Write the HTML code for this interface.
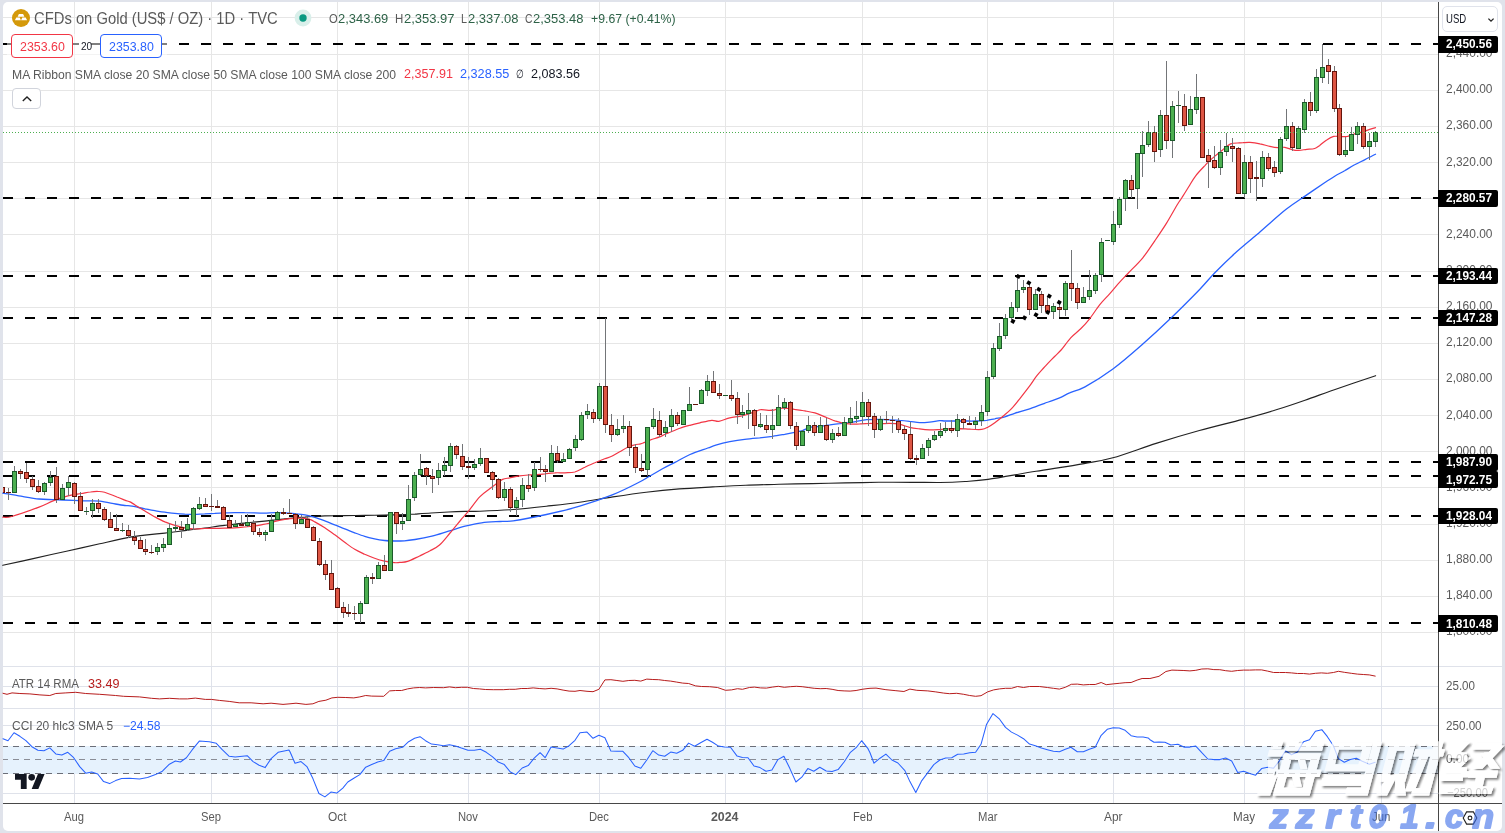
<!DOCTYPE html>
<html><head><meta charset="utf-8"><title>CFDs on Gold</title>
<style>
html,body{margin:0;padding:0}
body{width:1505px;height:833px;overflow:hidden;background:#e0e3eb;position:relative;font-family:"Liberation Sans",sans-serif}
#panel{position:absolute;left:3px;top:2px;width:1499px;height:829px;background:#fff;border-radius:5px}
svg{position:absolute;left:0;top:0}
.t{position:absolute;white-space:nowrap;line-height:1;transform-origin:0 50%;height:1em}
.bx{position:absolute;left:1438px;width:59.5px;background:#000;border-radius:0 2px 2px 0}
.btn{position:absolute;box-sizing:border-box;background:#fff;border-radius:4px}
</style></head><body>
<div id="panel"></div>

<svg width="1505" height="833" viewBox="0 0 1505 833" shape-rendering="crispEdges">
<g shape-rendering="crispEdges">
<path d="M74 2h1v664h-1zM211 2h1v664h-1zM337 2h1v664h-1zM468 2h1v664h-1zM599 2h1v664h-1zM725 2h1v664h-1zM862 2h1v664h-1zM987 2h1v664h-1zM1113 2h1v664h-1zM1244 2h1v664h-1zM1381 2h1v664h-1zM3 17h1435v1h-1435zM3 54h1435v1h-1435zM3 90h1435v1h-1435zM3 126h1435v1h-1435zM3 162h1435v1h-1435zM3 198h1435v1h-1435zM3 234h1435v1h-1435zM3 271h1435v1h-1435zM3 307h1435v1h-1435zM3 343h1435v1h-1435zM3 379h1435v1h-1435zM3 415h1435v1h-1435zM3 451h1435v1h-1435zM3 487h1435v1h-1435zM3 524h1435v1h-1435zM3 560h1435v1h-1435zM3 596h1435v1h-1435zM3 632h1435v1h-1435z" fill="#e6e6e6"/>
<path d="M74 667h1v136h-1zM211 667h1v136h-1zM337 667h1v136h-1zM468 667h1v136h-1zM599 667h1v136h-1zM725 667h1v136h-1zM862 667h1v136h-1zM987 667h1v136h-1zM1113 667h1v136h-1zM1244 667h1v136h-1zM1381 667h1v136h-1zM3 686h1435v1h-1435zM3 725h1435v1h-1435zM3 793h1435v1h-1435z" fill="#dfe2ea"/>
<path d="M3 666h1499v1h-1499zM3 708h1499v1h-1499z" fill="#dfe2ea"/>
<rect x="3" y="746" width="1435" height="28" fill="#e6f2fd"/>
<path d="M3 746.5H1438" stroke="#6b6e78" stroke-width="1" stroke-dasharray="6 5" stroke-dashoffset="1" fill="none"/>
<path d="M3 759.5H1438" stroke="#8a8d96" stroke-width="1" stroke-dasharray="6 5" stroke-dashoffset="1" fill="none"/>
<path d="M3 773.5H1438" stroke="#6b6e78" stroke-width="1" stroke-dasharray="6 5" stroke-dashoffset="1" fill="none"/>
<path d="M3 43h10v2h-10zM25 43h10v2h-10zM47 43h10v2h-10zM69 43h10v2h-10zM91 43h10v2h-10zM113 43h10v2h-10zM135 43h10v2h-10zM157 43h10v2h-10zM179 43h10v2h-10zM201 43h10v2h-10zM223 43h10v2h-10zM245 43h10v2h-10zM267 43h10v2h-10zM289 43h10v2h-10zM311 43h10v2h-10zM333 43h10v2h-10zM355 43h10v2h-10zM377 43h10v2h-10zM399 43h10v2h-10zM421 43h10v2h-10zM443 43h10v2h-10zM465 43h10v2h-10zM487 43h10v2h-10zM509 43h10v2h-10zM531 43h10v2h-10zM553 43h10v2h-10zM575 43h10v2h-10zM597 43h10v2h-10zM619 43h10v2h-10zM641 43h10v2h-10zM663 43h10v2h-10zM685 43h10v2h-10zM707 43h10v2h-10zM729 43h10v2h-10zM751 43h10v2h-10zM773 43h10v2h-10zM795 43h10v2h-10zM817 43h10v2h-10zM839 43h10v2h-10zM861 43h10v2h-10zM883 43h10v2h-10zM905 43h10v2h-10zM927 43h10v2h-10zM949 43h10v2h-10zM971 43h10v2h-10zM993 43h10v2h-10zM1015 43h10v2h-10zM1037 43h10v2h-10zM1059 43h10v2h-10zM1081 43h10v2h-10zM1103 43h10v2h-10zM1125 43h10v2h-10zM1147 43h10v2h-10zM1169 43h10v2h-10zM1191 43h10v2h-10zM1213 43h10v2h-10zM1235 43h10v2h-10zM1257 43h10v2h-10zM1279 43h10v2h-10zM1301 43h10v2h-10zM1323 43h10v2h-10zM1345 43h10v2h-10zM1367 43h10v2h-10zM1389 43h10v2h-10zM1411 43h10v2h-10zM1433 43h5v2h-5z" fill="#000"/>
<path d="M3 197h10v2h-10zM25 197h10v2h-10zM47 197h10v2h-10zM69 197h10v2h-10zM91 197h10v2h-10zM113 197h10v2h-10zM135 197h10v2h-10zM157 197h10v2h-10zM179 197h10v2h-10zM201 197h10v2h-10zM223 197h10v2h-10zM245 197h10v2h-10zM267 197h10v2h-10zM289 197h10v2h-10zM311 197h10v2h-10zM333 197h10v2h-10zM355 197h10v2h-10zM377 197h10v2h-10zM399 197h10v2h-10zM421 197h10v2h-10zM443 197h10v2h-10zM465 197h10v2h-10zM487 197h10v2h-10zM509 197h10v2h-10zM531 197h10v2h-10zM553 197h10v2h-10zM575 197h10v2h-10zM597 197h10v2h-10zM619 197h10v2h-10zM641 197h10v2h-10zM663 197h10v2h-10zM685 197h10v2h-10zM707 197h10v2h-10zM729 197h10v2h-10zM751 197h10v2h-10zM773 197h10v2h-10zM795 197h10v2h-10zM817 197h10v2h-10zM839 197h10v2h-10zM861 197h10v2h-10zM883 197h10v2h-10zM905 197h10v2h-10zM927 197h10v2h-10zM949 197h10v2h-10zM971 197h10v2h-10zM993 197h10v2h-10zM1015 197h10v2h-10zM1037 197h10v2h-10zM1059 197h10v2h-10zM1081 197h10v2h-10zM1103 197h10v2h-10zM1125 197h10v2h-10zM1147 197h10v2h-10zM1169 197h10v2h-10zM1191 197h10v2h-10zM1213 197h10v2h-10zM1235 197h10v2h-10zM1257 197h10v2h-10zM1279 197h10v2h-10zM1301 197h10v2h-10zM1323 197h10v2h-10zM1345 197h10v2h-10zM1367 197h10v2h-10zM1389 197h10v2h-10zM1411 197h10v2h-10zM1433 197h5v2h-5z" fill="#000"/>
<path d="M3 275h10v2h-10zM25 275h10v2h-10zM47 275h10v2h-10zM69 275h10v2h-10zM91 275h10v2h-10zM113 275h10v2h-10zM135 275h10v2h-10zM157 275h10v2h-10zM179 275h10v2h-10zM201 275h10v2h-10zM223 275h10v2h-10zM245 275h10v2h-10zM267 275h10v2h-10zM289 275h10v2h-10zM311 275h10v2h-10zM333 275h10v2h-10zM355 275h10v2h-10zM377 275h10v2h-10zM399 275h10v2h-10zM421 275h10v2h-10zM443 275h10v2h-10zM465 275h10v2h-10zM487 275h10v2h-10zM509 275h10v2h-10zM531 275h10v2h-10zM553 275h10v2h-10zM575 275h10v2h-10zM597 275h10v2h-10zM619 275h10v2h-10zM641 275h10v2h-10zM663 275h10v2h-10zM685 275h10v2h-10zM707 275h10v2h-10zM729 275h10v2h-10zM751 275h10v2h-10zM773 275h10v2h-10zM795 275h10v2h-10zM817 275h10v2h-10zM839 275h10v2h-10zM861 275h10v2h-10zM883 275h10v2h-10zM905 275h10v2h-10zM927 275h10v2h-10zM949 275h10v2h-10zM971 275h10v2h-10zM993 275h10v2h-10zM1015 275h10v2h-10zM1037 275h10v2h-10zM1059 275h10v2h-10zM1081 275h10v2h-10zM1103 275h10v2h-10zM1125 275h10v2h-10zM1147 275h10v2h-10zM1169 275h10v2h-10zM1191 275h10v2h-10zM1213 275h10v2h-10zM1235 275h10v2h-10zM1257 275h10v2h-10zM1279 275h10v2h-10zM1301 275h10v2h-10zM1323 275h10v2h-10zM1345 275h10v2h-10zM1367 275h10v2h-10zM1389 275h10v2h-10zM1411 275h10v2h-10zM1433 275h5v2h-5z" fill="#000"/>
<path d="M3 317h10v2h-10zM25 317h10v2h-10zM47 317h10v2h-10zM69 317h10v2h-10zM91 317h10v2h-10zM113 317h10v2h-10zM135 317h10v2h-10zM157 317h10v2h-10zM179 317h10v2h-10zM201 317h10v2h-10zM223 317h10v2h-10zM245 317h10v2h-10zM267 317h10v2h-10zM289 317h10v2h-10zM311 317h10v2h-10zM333 317h10v2h-10zM355 317h10v2h-10zM377 317h10v2h-10zM399 317h10v2h-10zM421 317h10v2h-10zM443 317h10v2h-10zM465 317h10v2h-10zM487 317h10v2h-10zM509 317h10v2h-10zM531 317h10v2h-10zM553 317h10v2h-10zM575 317h10v2h-10zM597 317h10v2h-10zM619 317h10v2h-10zM641 317h10v2h-10zM663 317h10v2h-10zM685 317h10v2h-10zM707 317h10v2h-10zM729 317h10v2h-10zM751 317h10v2h-10zM773 317h10v2h-10zM795 317h10v2h-10zM817 317h10v2h-10zM839 317h10v2h-10zM861 317h10v2h-10zM883 317h10v2h-10zM905 317h10v2h-10zM927 317h10v2h-10zM949 317h10v2h-10zM971 317h10v2h-10zM993 317h10v2h-10zM1015 317h10v2h-10zM1037 317h10v2h-10zM1059 317h10v2h-10zM1081 317h10v2h-10zM1103 317h10v2h-10zM1125 317h10v2h-10zM1147 317h10v2h-10zM1169 317h10v2h-10zM1191 317h10v2h-10zM1213 317h10v2h-10zM1235 317h10v2h-10zM1257 317h10v2h-10zM1279 317h10v2h-10zM1301 317h10v2h-10zM1323 317h10v2h-10zM1345 317h10v2h-10zM1367 317h10v2h-10zM1389 317h10v2h-10zM1411 317h10v2h-10zM1433 317h5v2h-5z" fill="#000"/>
<path d="M3 461h10v2h-10zM25 461h10v2h-10zM47 461h10v2h-10zM69 461h10v2h-10zM91 461h10v2h-10zM113 461h10v2h-10zM135 461h10v2h-10zM157 461h10v2h-10zM179 461h10v2h-10zM201 461h10v2h-10zM223 461h10v2h-10zM245 461h10v2h-10zM267 461h10v2h-10zM289 461h10v2h-10zM311 461h10v2h-10zM333 461h10v2h-10zM355 461h10v2h-10zM377 461h10v2h-10zM399 461h10v2h-10zM421 461h10v2h-10zM443 461h10v2h-10zM465 461h10v2h-10zM487 461h10v2h-10zM509 461h10v2h-10zM531 461h10v2h-10zM553 461h10v2h-10zM575 461h10v2h-10zM597 461h10v2h-10zM619 461h10v2h-10zM641 461h10v2h-10zM663 461h10v2h-10zM685 461h10v2h-10zM707 461h10v2h-10zM729 461h10v2h-10zM751 461h10v2h-10zM773 461h10v2h-10zM795 461h10v2h-10zM817 461h10v2h-10zM839 461h10v2h-10zM861 461h10v2h-10zM883 461h10v2h-10zM905 461h10v2h-10zM927 461h10v2h-10zM949 461h10v2h-10zM971 461h10v2h-10zM993 461h10v2h-10zM1015 461h10v2h-10zM1037 461h10v2h-10zM1059 461h10v2h-10zM1081 461h10v2h-10zM1103 461h10v2h-10zM1125 461h10v2h-10zM1147 461h10v2h-10zM1169 461h10v2h-10zM1191 461h10v2h-10zM1213 461h10v2h-10zM1235 461h10v2h-10zM1257 461h10v2h-10zM1279 461h10v2h-10zM1301 461h10v2h-10zM1323 461h10v2h-10zM1345 461h10v2h-10zM1367 461h10v2h-10zM1389 461h10v2h-10zM1411 461h10v2h-10zM1433 461h5v2h-5z" fill="#000"/>
<path d="M3 475h10v2h-10zM25 475h10v2h-10zM47 475h10v2h-10zM69 475h10v2h-10zM91 475h10v2h-10zM113 475h10v2h-10zM135 475h10v2h-10zM157 475h10v2h-10zM179 475h10v2h-10zM201 475h10v2h-10zM223 475h10v2h-10zM245 475h10v2h-10zM267 475h10v2h-10zM289 475h10v2h-10zM311 475h10v2h-10zM333 475h10v2h-10zM355 475h10v2h-10zM377 475h10v2h-10zM399 475h10v2h-10zM421 475h10v2h-10zM443 475h10v2h-10zM465 475h10v2h-10zM487 475h10v2h-10zM509 475h10v2h-10zM531 475h10v2h-10zM553 475h10v2h-10zM575 475h10v2h-10zM597 475h10v2h-10zM619 475h10v2h-10zM641 475h10v2h-10zM663 475h10v2h-10zM685 475h10v2h-10zM707 475h10v2h-10zM729 475h10v2h-10zM751 475h10v2h-10zM773 475h10v2h-10zM795 475h10v2h-10zM817 475h10v2h-10zM839 475h10v2h-10zM861 475h10v2h-10zM883 475h10v2h-10zM905 475h10v2h-10zM927 475h10v2h-10zM949 475h10v2h-10zM971 475h10v2h-10zM993 475h10v2h-10zM1015 475h10v2h-10zM1037 475h10v2h-10zM1059 475h10v2h-10zM1081 475h10v2h-10zM1103 475h10v2h-10zM1125 475h10v2h-10zM1147 475h10v2h-10zM1169 475h10v2h-10zM1191 475h10v2h-10zM1213 475h10v2h-10zM1235 475h10v2h-10zM1257 475h10v2h-10zM1279 475h10v2h-10zM1301 475h10v2h-10zM1323 475h10v2h-10zM1345 475h10v2h-10zM1367 475h10v2h-10zM1389 475h10v2h-10zM1411 475h10v2h-10zM1433 475h5v2h-5z" fill="#000"/>
<path d="M3 515h10v2h-10zM25 515h10v2h-10zM47 515h10v2h-10zM69 515h10v2h-10zM91 515h10v2h-10zM113 515h10v2h-10zM135 515h10v2h-10zM157 515h10v2h-10zM179 515h10v2h-10zM201 515h10v2h-10zM223 515h10v2h-10zM245 515h10v2h-10zM267 515h10v2h-10zM289 515h10v2h-10zM311 515h10v2h-10zM333 515h10v2h-10zM355 515h10v2h-10zM377 515h10v2h-10zM399 515h10v2h-10zM421 515h10v2h-10zM443 515h10v2h-10zM465 515h10v2h-10zM487 515h10v2h-10zM509 515h10v2h-10zM531 515h10v2h-10zM553 515h10v2h-10zM575 515h10v2h-10zM597 515h10v2h-10zM619 515h10v2h-10zM641 515h10v2h-10zM663 515h10v2h-10zM685 515h10v2h-10zM707 515h10v2h-10zM729 515h10v2h-10zM751 515h10v2h-10zM773 515h10v2h-10zM795 515h10v2h-10zM817 515h10v2h-10zM839 515h10v2h-10zM861 515h10v2h-10zM883 515h10v2h-10zM905 515h10v2h-10zM927 515h10v2h-10zM949 515h10v2h-10zM971 515h10v2h-10zM993 515h10v2h-10zM1015 515h10v2h-10zM1037 515h10v2h-10zM1059 515h10v2h-10zM1081 515h10v2h-10zM1103 515h10v2h-10zM1125 515h10v2h-10zM1147 515h10v2h-10zM1169 515h10v2h-10zM1191 515h10v2h-10zM1213 515h10v2h-10zM1235 515h10v2h-10zM1257 515h10v2h-10zM1279 515h10v2h-10zM1301 515h10v2h-10zM1323 515h10v2h-10zM1345 515h10v2h-10zM1367 515h10v2h-10zM1389 515h10v2h-10zM1411 515h10v2h-10zM1433 515h5v2h-5z" fill="#000"/>
<path d="M3 622h10v2h-10zM25 622h10v2h-10zM47 622h10v2h-10zM69 622h10v2h-10zM91 622h10v2h-10zM113 622h10v2h-10zM135 622h10v2h-10zM157 622h10v2h-10zM179 622h10v2h-10zM201 622h10v2h-10zM223 622h10v2h-10zM245 622h10v2h-10zM267 622h10v2h-10zM289 622h10v2h-10zM311 622h10v2h-10zM333 622h10v2h-10zM355 622h10v2h-10zM377 622h10v2h-10zM399 622h10v2h-10zM421 622h10v2h-10zM443 622h10v2h-10zM465 622h10v2h-10zM487 622h10v2h-10zM509 622h10v2h-10zM531 622h10v2h-10zM553 622h10v2h-10zM575 622h10v2h-10zM597 622h10v2h-10zM619 622h10v2h-10zM641 622h10v2h-10zM663 622h10v2h-10zM685 622h10v2h-10zM707 622h10v2h-10zM729 622h10v2h-10zM751 622h10v2h-10zM773 622h10v2h-10zM795 622h10v2h-10zM817 622h10v2h-10zM839 622h10v2h-10zM861 622h10v2h-10zM883 622h10v2h-10zM905 622h10v2h-10zM927 622h10v2h-10zM949 622h10v2h-10zM971 622h10v2h-10zM993 622h10v2h-10zM1015 622h10v2h-10zM1037 622h10v2h-10zM1059 622h10v2h-10zM1081 622h10v2h-10zM1103 622h10v2h-10zM1125 622h10v2h-10zM1147 622h10v2h-10zM1169 622h10v2h-10zM1191 622h10v2h-10zM1213 622h10v2h-10zM1235 622h10v2h-10zM1257 622h10v2h-10zM1279 622h10v2h-10zM1301 622h10v2h-10zM1323 622h10v2h-10zM1345 622h10v2h-10zM1367 622h10v2h-10zM1389 622h10v2h-10zM1411 622h10v2h-10zM1433 622h5v2h-5z" fill="#000"/>
<path d="M2.8 565.3 C7.7 564.2 23.0 560.9 33.2 558.6 C43.4 556.3 55.8 553.6 66.4 551.2 C77.0 548.8 89.5 546.1 99.7 543.8 C109.9 541.5 122.8 538.5 130.0 537.1 C137.2 535.7 139.4 535.8 144.9 535.1 C150.5 534.5 158.5 533.8 164.9 533.1 C171.2 532.4 178.4 531.4 184.8 530.6 C191.2 529.8 198.4 528.9 204.7 528.0 C211.1 527.2 218.3 526.1 224.7 525.4 C231.1 524.6 238.2 523.7 244.6 523.1 C251.0 522.4 259.7 521.6 264.5 521.1 C269.4 520.6 271.7 520.2 275.0 519.9 C278.2 519.5 281.7 519.2 284.9 518.9 C288.1 518.6 291.7 518.2 294.9 517.9 C298.1 517.6 301.7 517.3 304.9 517.1 C308.1 516.8 311.6 516.6 314.8 516.4 C318.0 516.2 320.0 516.0 324.8 515.9 C329.6 515.8 338.4 515.7 344.7 515.6 C351.1 515.5 358.3 515.5 364.7 515.4 C371.1 515.3 378.2 515.2 384.6 515.1 C391.0 515.0 399.7 514.7 404.5 514.6 C409.4 514.4 410.8 514.3 415.0 514.1 C419.2 513.8 425.6 513.3 431.0 513.0 C436.4 512.7 443.1 512.3 448.5 512.0 C453.9 511.7 460.0 511.5 465.0 511.4 C470.0 511.3 472.3 511.5 480.0 511.2 C487.7 510.9 502.6 510.3 513.2 509.5 C523.8 508.7 535.8 507.4 546.4 506.2 C557.0 505.0 569.1 503.7 579.7 502.2 C590.3 500.7 602.3 498.5 612.9 496.9 C623.5 495.3 635.5 493.5 646.1 492.2 C656.7 490.9 668.7 489.7 679.3 488.9 C689.9 488.1 702.0 487.5 712.6 486.9 C723.2 486.3 735.2 485.6 745.8 485.2 C756.4 484.8 768.4 484.6 779.0 484.3 C789.6 484.0 801.6 483.8 812.2 483.6 C822.8 483.4 834.8 483.1 845.4 482.9 C856.0 482.7 868.1 482.4 878.7 482.3 C889.3 482.2 902.1 482.3 911.9 482.3 C921.7 482.3 931.5 482.6 940.0 482.5 C948.5 482.4 957.3 482.0 965.0 481.5 C972.7 481.0 976.6 481.0 988.0 479.4 C999.4 477.8 1020.6 473.8 1036.0 471.3 C1051.4 468.8 1071.7 465.8 1084.0 463.6 C1096.3 461.4 1101.4 461.0 1112.9 457.8 C1124.4 454.6 1142.3 447.8 1156.1 443.4 C1169.9 439.0 1185.6 434.3 1199.4 430.5 C1213.2 426.7 1230.3 422.7 1242.6 419.4 C1254.9 416.1 1266.2 412.9 1276.2 409.8 C1286.2 406.7 1295.0 403.7 1305.0 400.2 C1315.0 396.7 1327.4 392.1 1338.7 388.2 C1350.0 384.3 1369.7 377.7 1375.6 375.7" stroke="#222" stroke-width="1.15" fill="none" shape-rendering="geometricPrecision" stroke-linejoin="round" stroke-linecap="round"/>
<path d="M2.8 493.1 C5.4 493.5 12.9 494.9 18.7 495.9 C24.5 496.8 33.5 498.4 39.0 499.0 C44.5 499.6 47.6 499.4 53.1 499.6 C58.6 499.8 67.9 500.2 73.3 500.4 C78.8 500.6 83.1 500.7 87.4 500.9 C91.6 501.0 95.4 500.7 99.9 501.2 C104.4 501.7 111.5 503.3 115.5 504.0 C119.5 504.7 122.5 505.2 124.8 505.5 C127.2 505.8 128.4 505.6 130.0 505.8 C131.6 506.0 132.6 506.2 135.0 506.7 C137.4 507.2 141.7 508.3 144.9 508.9 C148.1 509.5 151.7 510.2 154.9 510.7 C158.1 511.2 161.7 511.8 164.9 512.2 C168.1 512.6 171.6 513.1 174.8 513.4 C178.0 513.7 181.6 514.0 184.8 514.2 C188.0 514.3 191.6 514.4 194.8 514.4 C198.0 514.3 201.5 514.0 204.7 513.9 C207.9 513.7 211.5 513.5 214.7 513.4 C217.9 513.2 221.5 513.0 224.7 512.9 C227.9 512.8 231.4 512.6 234.6 512.6 C237.8 512.6 241.4 512.6 244.6 512.7 C247.8 512.7 251.4 512.8 254.6 512.9 C257.8 513.0 261.3 513.1 264.5 513.1 C267.8 513.1 271.7 512.7 275.0 512.7 C278.2 512.7 281.7 512.7 284.9 512.9 C288.1 513.1 291.7 513.4 294.9 513.7 C298.1 514.0 301.7 514.3 304.9 514.9 C308.1 515.5 311.6 516.4 314.8 517.4 C318.0 518.3 321.6 519.7 324.8 520.9 C328.0 522.1 331.6 523.6 334.8 524.9 C338.0 526.1 341.5 527.6 344.7 528.8 C347.9 530.1 351.5 531.6 354.7 532.8 C357.9 534.0 361.5 535.4 364.7 536.3 C367.9 537.3 371.4 538.1 374.6 538.8 C377.8 539.5 381.4 540.1 384.6 540.5 C387.8 540.9 391.4 541.0 394.6 541.0 C397.8 541.0 401.3 541.0 404.5 540.8 C407.8 540.6 410.6 540.2 415.0 539.5 C419.4 538.8 426.5 537.5 431.9 536.2 C437.3 534.9 443.2 532.8 448.5 531.2 C453.8 529.6 459.8 527.5 465.1 526.2 C470.4 524.9 476.1 523.6 481.7 522.8 C487.3 522.0 495.0 521.8 500.0 521.5 C505.0 521.2 505.8 521.9 513.2 520.8 C520.6 519.7 535.8 516.8 546.4 514.5 C557.0 512.2 569.1 509.4 579.7 506.2 C590.3 503.0 603.6 498.3 612.9 494.6 C622.2 490.9 631.8 486.0 637.6 483.0 C643.5 480.1 645.6 478.5 649.6 476.2 C653.6 474.0 658.5 471.0 662.5 468.8 C666.6 466.5 670.6 464.6 675.0 462.3 C679.4 460.0 684.7 456.8 690.0 454.5 C695.3 452.2 703.7 449.5 707.8 448.0 C712.0 446.5 712.3 446.2 715.8 445.2 C719.3 444.2 725.1 442.7 729.8 441.7 C734.4 440.8 739.9 439.9 744.7 439.3 C749.5 438.6 755.2 438.2 759.7 437.8 C764.1 437.3 768.6 436.8 772.6 436.3 C776.6 435.7 781.1 434.9 784.6 434.3 C788.1 433.6 791.7 432.9 794.6 432.3 C797.4 431.7 800.1 431.4 802.5 430.6 C805.0 429.8 807.2 428.0 810.0 427.4 C812.7 426.7 816.7 426.8 819.9 426.4 C823.1 426.0 826.7 425.3 829.9 424.9 C833.1 424.4 836.7 423.9 839.9 423.6 C843.0 423.2 847.1 423.0 849.8 422.7 C852.5 422.3 854.1 421.9 856.8 421.4 C859.5 420.9 863.1 420.0 866.8 419.7 C870.4 419.4 876.1 419.4 879.7 419.4 C883.4 419.4 886.5 419.7 889.7 419.9 C892.9 420.0 896.5 420.1 899.7 420.4 C902.8 420.6 906.4 421.0 909.6 421.4 C912.8 421.7 916.4 422.5 919.6 422.6 C922.8 422.7 926.4 422.4 929.6 422.1 C932.7 421.8 937.1 420.8 939.5 420.6 C942.0 420.4 942.5 420.9 945.0 421.0 C947.4 421.0 951.7 421.0 954.9 421.0 C958.1 421.0 961.7 421.0 964.9 421.0 C968.1 421.0 971.4 421.1 974.9 421.0 C978.4 420.9 983.6 420.6 986.8 420.3 C990.0 419.9 991.9 419.3 994.8 418.8 C997.7 418.2 1001.6 417.7 1004.8 416.8 C1008.0 415.9 1010.8 414.6 1014.7 413.3 C1018.7 412.0 1024.9 410.4 1029.7 408.8 C1034.5 407.2 1039.9 405.1 1044.6 403.3 C1049.4 401.6 1055.6 399.5 1059.6 397.8 C1063.6 396.2 1065.5 394.6 1069.6 392.9 C1073.6 391.1 1078.1 390.7 1085.0 386.9 C1091.9 383.1 1103.8 375.7 1112.9 369.0 C1122.0 362.3 1132.5 353.1 1141.7 345.0 C1150.9 336.9 1161.3 327.3 1170.5 318.5 C1179.7 309.7 1192.3 297.0 1199.4 289.7 C1206.5 282.4 1208.9 278.9 1214.6 273.0 C1220.3 267.2 1228.2 259.5 1235.0 253.3 C1241.8 247.1 1248.9 241.5 1257.0 234.5 C1265.1 227.5 1278.1 215.6 1285.8 209.5 C1293.5 203.4 1298.9 200.3 1305.0 196.1 C1311.1 191.9 1319.5 186.2 1324.2 183.0 C1329.0 179.8 1331.4 178.2 1334.7 176.2 C1337.9 174.3 1341.4 172.6 1344.6 170.8 C1347.8 168.9 1351.4 166.5 1354.6 164.8 C1357.8 163.0 1361.2 161.5 1364.6 159.8 C1367.9 158.1 1373.8 155.2 1375.5 154.3" stroke="#2962ff" stroke-width="1.3" fill="none" shape-rendering="geometricPrecision" stroke-linejoin="round" stroke-linecap="round"/>
<path d="M2.8 517.2 C4.2 517.1 5.9 518.1 11.7 516.5 C17.5 514.8 32.4 509.6 39.0 507.1 C45.6 504.6 48.6 502.6 53.1 500.9 C57.6 499.1 62.6 497.4 67.1 496.2 C71.6 495.0 77.4 494.2 81.1 493.5 C84.9 492.9 87.8 492.3 90.5 492.0 C93.3 491.6 96.1 491.4 98.3 491.5 C100.6 491.5 101.6 491.4 104.6 492.3 C107.6 493.2 113.8 495.7 117.0 497.0 C120.3 498.2 122.8 499.3 124.8 500.1 C126.9 500.9 128.4 501.2 130.0 501.9 C131.6 502.7 132.6 503.5 135.0 504.9 C137.4 506.4 141.7 509.0 144.9 510.9 C148.1 512.8 151.7 515.1 154.9 516.9 C158.1 518.6 161.7 520.5 164.9 521.9 C168.1 523.2 171.6 524.4 174.8 525.4 C178.0 526.3 181.6 527.3 184.8 527.8 C188.0 528.4 191.6 528.9 194.8 529.0 C198.0 529.1 201.5 528.7 204.7 528.5 C207.9 528.4 211.5 528.4 214.7 528.3 C217.9 528.3 221.5 528.2 224.7 528.1 C227.9 528.1 231.4 528.0 234.6 527.8 C237.8 527.7 241.4 527.3 244.6 527.0 C247.8 526.8 251.4 526.5 254.6 526.0 C257.8 525.6 262.1 524.6 264.5 524.2 C267.0 523.7 268.3 523.5 270.0 523.1 C271.7 522.6 272.6 522.0 275.0 521.4 C277.4 520.8 281.7 519.8 284.9 519.4 C288.1 518.9 291.7 518.5 294.9 518.4 C298.1 518.2 302.5 518.2 304.9 518.4 C307.3 518.5 308.3 518.8 309.9 519.4 C311.4 519.9 312.4 520.5 314.8 521.9 C317.2 523.2 321.6 525.8 324.8 527.8 C328.0 529.9 331.6 532.5 334.8 534.8 C338.0 537.1 341.5 540.0 344.7 542.3 C347.9 544.6 351.5 547.4 354.7 549.3 C357.9 551.2 361.5 552.8 364.7 554.3 C367.9 555.7 371.4 557.1 374.6 558.2 C377.8 559.4 381.4 560.5 384.6 561.2 C387.8 561.9 392.2 562.5 394.6 562.7 C397.0 562.9 397.6 562.6 399.7 562.4 C401.8 562.2 404.5 562.5 407.6 561.4 C410.8 560.4 416.1 557.6 419.6 556.0 C423.1 554.3 426.4 552.7 429.6 551.0 C432.8 549.2 436.3 547.9 439.5 545.0 C442.8 542.1 446.6 537.0 450.0 533.0 C453.4 529.0 457.8 523.6 460.8 520.0 C463.8 516.5 465.7 514.5 468.7 510.8 C471.8 507.0 476.4 500.3 479.7 496.8 C483.1 493.3 487.1 490.8 489.7 488.8 C492.2 486.8 493.6 485.9 495.7 484.3 C497.7 482.8 500.4 480.4 502.6 479.4 C504.9 478.3 506.9 478.4 509.6 477.9 C512.3 477.3 516.4 476.4 519.6 475.9 C522.8 475.4 527.1 475.1 529.5 474.9 C532.0 474.7 532.5 474.9 535.0 474.8 C537.4 474.6 541.7 474.1 544.9 473.8 C548.1 473.4 551.7 472.9 554.9 472.8 C558.1 472.6 561.7 472.9 564.9 472.8 C568.1 472.6 571.6 472.8 574.8 472.0 C578.0 471.1 581.6 468.7 584.8 467.3 C588.0 465.8 591.6 464.1 594.8 462.8 C598.0 461.4 602.0 459.8 604.7 458.8 C607.4 457.8 609.3 457.4 611.7 456.3 C614.1 455.2 617.1 453.3 619.7 451.8 C622.2 450.4 625.3 448.5 627.7 447.3 C630.1 446.2 632.6 445.4 634.6 444.9 C636.7 444.3 639.0 444.3 640.6 443.9 C642.2 443.5 643.0 443.0 644.6 442.4 C646.2 441.7 648.2 440.7 650.6 439.9 C653.0 439.0 657.3 437.8 659.6 436.9 C661.9 436.0 663.3 435.0 665.0 434.3 C666.6 433.5 667.6 433.2 670.0 432.3 C672.4 431.3 676.7 429.4 679.9 428.3 C683.1 427.2 686.7 426.2 689.9 425.3 C693.1 424.4 696.4 423.6 699.9 422.8 C703.4 422.0 708.8 420.6 711.8 420.3 C714.9 420.1 715.9 421.7 718.8 421.3 C721.7 420.9 726.4 418.6 729.8 417.8 C733.1 417.0 736.9 416.9 739.7 416.3 C742.6 415.8 745.3 415.1 747.7 414.3 C750.1 413.6 752.6 412.6 754.7 411.8 C756.8 411.1 758.3 409.9 760.7 409.7 C763.1 409.4 767.4 410.3 769.6 410.4 C771.9 410.4 773.0 410.2 774.6 409.9 C776.2 409.5 777.5 408.6 779.6 408.4 C781.7 408.1 785.2 408.2 787.6 408.4 C790.0 408.5 792.3 409.0 794.6 409.4 C796.8 409.7 799.9 410.1 801.5 410.4 C803.2 410.6 802.8 410.5 805.0 410.9 C807.1 411.3 811.7 412.0 814.9 412.9 C818.1 413.9 821.7 415.6 824.9 416.9 C828.1 418.2 832.2 419.9 834.9 420.9 C837.6 421.8 839.3 422.3 841.8 422.9 C844.4 423.4 847.9 424.0 850.8 424.2 C853.7 424.3 856.8 424.0 859.8 423.9 C862.8 423.7 866.6 423.4 869.8 423.4 C872.9 423.3 876.5 423.7 879.7 423.7 C882.9 423.7 886.5 423.3 889.7 423.4 C892.9 423.5 896.5 423.7 899.7 424.4 C902.8 425.0 906.4 426.6 909.6 427.4 C912.8 428.1 916.4 428.5 919.6 428.9 C922.8 429.3 926.4 429.7 929.6 429.9 C932.7 430.0 937.1 429.7 939.5 429.6 C942.0 429.4 941.7 429.2 945.0 429.0 C948.2 428.9 955.9 428.7 959.9 428.7 C963.9 428.8 966.4 429.1 969.9 429.2 C973.4 429.4 979.0 429.8 981.8 429.4 C984.7 429.1 985.8 428.3 987.8 427.2 C989.9 426.2 992.1 424.8 994.8 422.8 C997.5 420.8 1001.9 417.3 1004.8 414.8 C1007.6 412.3 1010.4 409.9 1012.7 407.3 C1015.1 404.8 1017.0 402.3 1019.7 398.8 C1022.4 395.4 1027.0 389.5 1029.7 385.9 C1032.4 382.2 1034.3 378.9 1036.7 375.9 C1039.1 372.9 1041.8 370.1 1044.6 366.9 C1047.5 363.8 1052.0 359.2 1054.6 356.5 C1057.2 353.8 1058.5 353.0 1061.1 350.0 C1063.7 347.0 1067.6 341.2 1070.7 337.8 C1073.8 334.4 1077.6 331.8 1080.7 328.8 C1083.7 325.8 1086.6 322.6 1089.6 318.8 C1092.7 315.0 1096.4 308.9 1099.6 304.9 C1102.8 300.9 1106.4 297.5 1109.6 293.9 C1112.7 290.3 1116.5 285.8 1119.5 282.4 C1122.5 279.1 1124.6 277.0 1128.4 273.0 C1132.1 269.1 1138.6 262.9 1142.8 257.8 C1147.0 252.6 1150.9 246.4 1154.8 240.8 C1158.6 235.3 1163.1 228.8 1166.7 222.9 C1170.4 217.0 1175.3 207.9 1177.7 204.0 C1180.1 200.0 1180.0 200.8 1181.7 198.0 C1183.5 195.3 1186.5 190.3 1188.7 186.8 C1190.9 183.2 1193.1 179.1 1195.7 175.8 C1198.2 172.5 1202.4 168.2 1204.7 165.8 C1206.9 163.4 1208.0 162.4 1209.6 160.8 C1211.2 159.3 1212.5 158.1 1214.6 156.4 C1216.7 154.6 1220.0 151.9 1222.6 149.9 C1225.1 147.9 1227.9 145.0 1230.6 143.9 C1233.3 142.8 1237.6 143.1 1239.5 142.9 C1241.5 142.7 1241.3 142.7 1243.0 142.7 C1244.6 142.6 1247.2 142.2 1250.0 142.4 C1252.7 142.6 1256.7 143.2 1259.9 143.9 C1263.1 144.5 1267.0 145.7 1269.9 146.3 C1272.8 147.0 1275.5 147.5 1277.9 147.6 C1280.3 147.8 1282.4 147.0 1284.8 147.3 C1287.2 147.7 1290.6 149.4 1292.8 149.8 C1295.0 150.3 1296.6 150.4 1298.8 150.3 C1301.0 150.3 1304.2 149.6 1306.8 149.3 C1309.3 149.1 1312.7 149.2 1314.7 148.5 C1316.8 147.9 1317.8 146.7 1319.7 145.4 C1321.6 144.0 1324.5 141.3 1326.7 139.9 C1328.9 138.4 1331.4 136.9 1333.7 136.4 C1335.9 135.9 1338.4 136.6 1340.7 136.6 C1342.9 136.6 1345.4 136.8 1347.6 136.4 C1349.9 135.9 1352.2 134.6 1354.6 133.9 C1357.0 133.2 1360.2 132.6 1362.6 131.9 C1365.0 131.2 1367.5 130.1 1369.6 129.4 C1371.6 128.7 1374.6 127.9 1375.5 127.6" stroke="#f23645" stroke-width="1.2" fill="none" shape-rendering="geometricPrecision" stroke-linejoin="round" stroke-linecap="round"/>
<clipPath id="cp"><rect x="3" y="2" width="1435" height="664"/></clipPath>
<g clip-path="url(#cp)">
<path d="M2 486h1v8h-1zM8 488h1v12h-1zM14 466h1v27h-1zM20 469h1v10h-1zM26 463h1v20h-1zM32 476h1v14h-1zM38 480h1v13h-1zM44 482h1v13h-1zM50 471h1v15h-1zM56 467h1v36h-1zM62 484h1v16h-1zM68 476h1v20h-1zM74 482h1v22h-1zM80 492h1v19h-1zM86 507h1v8h-1zM92 499h1v19h-1zM98 499h1v14h-1zM104 507h1v14h-1zM110 512h1v16h-1zM116 514h1v17h-1zM122 523h1v9h-1zM128 525h1v13h-1zM134 531h1v14h-1zM140 537h1v12h-1zM145 539h1v16h-1zM151 545h1v9h-1zM157 543h1v12h-1zM163 538h1v14h-1zM169 523h1v22h-1zM175 521h1v10h-1zM181 521h1v17h-1zM187 518h1v13h-1zM193 507h1v23h-1zM199 497h1v13h-1zM205 498h1v9h-1zM211 494h1v17h-1zM217 500h1v8h-1zM223 506h1v14h-1zM229 515h1v13h-1zM235 520h1v7h-1zM241 515h1v11h-1zM247 514h1v13h-1zM253 520h1v15h-1zM259 528h1v9h-1zM265 530h1v11h-1zM271 514h1v18h-1zM277 511h1v9h-1zM283 508h1v7h-1zM289 499h1v15h-1zM295 513h1v16h-1zM301 515h1v9h-1zM307 517h1v11h-1zM313 526h1v15h-1zM319 538h1v28h-1zM325 560h1v20h-1zM331 560h1v30h-1zM337 587h1v21h-1zM343 602h1v16h-1zM348 604h1v13h-1zM354 606h1v14h-1zM360 601h1v22h-1zM366 575h1v29h-1zM372 573h1v11h-1zM378 562h1v17h-1zM384 555h1v16h-1zM390 512h1v59h-1zM396 512h1v22h-1zM402 513h1v17h-1zM408 485h1v36h-1zM414 472h1v29h-1zM420 454h1v22h-1zM426 467h1v18h-1zM432 469h1v24h-1zM438 463h1v22h-1zM444 457h1v19h-1zM450 443h1v29h-1zM456 445h1v14h-1zM462 444h1v26h-1zM468 457h1v22h-1zM474 459h1v11h-1zM480 448h1v18h-1zM486 458h1v15h-1zM492 471h1v19h-1zM498 478h1v21h-1zM504 482h1v19h-1zM510 487h1v25h-1zM516 497h1v19h-1zM522 478h1v29h-1zM528 474h1v18h-1zM534 462h1v29h-1zM540 457h1v15h-1zM545 465h1v17h-1zM551 445h1v27h-1zM557 446h1v17h-1zM563 453h1v8h-1zM569 448h1v11h-1zM575 435h1v16h-1zM581 412h1v29h-1zM587 404h1v15h-1zM593 409h1v14h-1zM599 383h1v38h-1zM605 318h1v115h-1zM611 414h1v28h-1zM617 419h1v17h-1zM623 415h1v18h-1zM629 421h1v35h-1zM635 444h1v29h-1zM641 454h1v18h-1zM647 427h1v49h-1zM653 408h1v21h-1zM659 411h1v26h-1zM665 421h1v16h-1zM671 409h1v23h-1zM677 412h1v14h-1zM683 410h1v15h-1zM689 387h1v24h-1zM695 404h1v1h-1zM701 389h1v15h-1zM707 375h1v21h-1zM713 371h1v22h-1zM719 384h1v15h-1zM725 395h1v1h-1zM731 380h1v21h-1zM737 392h1v32h-1zM742 405h1v13h-1zM748 393h1v36h-1zM754 409h1v27h-1zM760 413h1v15h-1zM766 415h1v18h-1zM772 409h1v30h-1zM778 395h1v31h-1zM784 398h1v12h-1zM790 401h1v28h-1zM796 422h1v28h-1zM802 430h1v16h-1zM808 416h1v17h-1zM814 422h1v14h-1zM820 417h1v16h-1zM826 418h1v23h-1zM832 429h1v14h-1zM838 427h1v10h-1zM844 417h1v19h-1zM850 407h1v18h-1zM856 401h1v22h-1zM862 392h1v32h-1zM868 399h1v27h-1zM874 413h1v25h-1zM880 416h1v15h-1zM886 411h1v13h-1zM892 416h1v17h-1zM898 418h1v15h-1zM904 426h1v14h-1zM910 422h1v38h-1zM916 455h1v10h-1zM922 444h1v15h-1zM928 438h1v18h-1zM934 431h1v10h-1zM940 423h1v15h-1zM945 422h1v11h-1zM951 420h1v13h-1zM957 414h1v23h-1zM963 418h1v11h-1zM969 416h1v9h-1zM975 417h1v12h-1zM981 405h1v21h-1zM987 371h1v45h-1zM993 343h1v36h-1zM999 323h1v28h-1zM1005 314h1v25h-1zM1011 302h1v18h-1zM1017 274h1v38h-1zM1023 280h1v13h-1zM1029 285h1v30h-1zM1035 289h1v21h-1zM1041 291h1v22h-1zM1047 296h1v17h-1zM1053 303h1v16h-1zM1059 304h1v13h-1zM1065 281h1v35h-1zM1071 250h1v51h-1zM1077 283h1v26h-1zM1083 287h1v16h-1zM1089 270h1v30h-1zM1095 273h1v21h-1zM1101 238h1v44h-1zM1107 240h1v1h-1zM1113 211h1v34h-1zM1119 197h1v31h-1zM1125 179h1v32h-1zM1131 175h1v23h-1zM1137 153h1v56h-1zM1142 131h1v46h-1zM1148 121h1v26h-1zM1154 126h1v36h-1zM1160 110h1v47h-1zM1166 61h1v88h-1zM1172 101h1v57h-1zM1178 91h1v32h-1zM1184 94h1v37h-1zM1190 96h1v29h-1zM1196 74h1v40h-1zM1202 97h1v61h-1zM1208 149h1v39h-1zM1214 146h1v23h-1zM1220 140h1v35h-1zM1226 133h1v23h-1zM1232 138h1v24h-1zM1238 147h1v47h-1zM1244 155h1v43h-1zM1250 156h1v37h-1zM1256 161h1v40h-1zM1262 151h1v36h-1zM1268 153h1v18h-1zM1274 161h1v16h-1zM1280 137h1v37h-1zM1286 109h1v32h-1zM1292 122h1v29h-1zM1298 126h1v23h-1zM1304 99h1v34h-1zM1310 92h1v24h-1zM1316 69h1v44h-1zM1322 44h1v39h-1zM1328 59h1v25h-1zM1334 66h1v46h-1zM1339 104h1v52h-1zM1345 137h1v20h-1zM1351 127h1v24h-1zM1357 122h1v22h-1zM1363 123h1v26h-1zM1369 133h1v27h-1zM1375 131h1v16h-1z" fill="#737578"/>
<path d="M12 471h5v22h-5zM42 483h5v9h-5zM48 477h5v6h-5zM60 488h5v12h-5zM66 482h5v6h-5zM84 511h5v1h-5zM90 503h5v8h-5zM120 530h5v1h-5zM155 547h5v5h-5zM161 544h5v4h-5zM167 528h5v17h-5zM173 527h5v2h-5zM185 524h5v6h-5zM191 508h5v16h-5zM197 504h5v5h-5zM233 524h5v3h-5zM245 522h5v4h-5zM263 532h5v3h-5zM269 520h5v12h-5zM275 512h5v8h-5zM299 519h5v5h-5zM358 603h5v11h-5zM364 577h5v27h-5zM376 565h5v14h-5zM388 512h5v59h-5zM400 521h5v3h-5zM406 499h5v22h-5zM412 475h5v23h-5zM418 469h5v6h-5zM436 470h5v8h-5zM442 465h5v6h-5zM448 446h5v20h-5zM472 464h5v4h-5zM478 458h5v6h-5zM502 489h5v9h-5zM514 500h5v8h-5zM520 485h5v15h-5zM532 469h5v19h-5zM549 453h5v19h-5zM561 459h5v3h-5zM567 449h5v10h-5zM573 439h5v9h-5zM579 415h5v25h-5zM585 411h5v4h-5zM597 386h5v33h-5zM615 429h5v6h-5zM621 426h5v3h-5zM645 427h5v43h-5zM651 419h5v8h-5zM663 427h5v6h-5zM669 415h5v12h-5zM681 410h5v15h-5zM687 404h5v7h-5zM699 390h5v14h-5zM705 381h5v10h-5zM723 395h5v1h-5zM740 412h5v3h-5zM746 410h5v4h-5zM758 424h5v3h-5zM770 425h5v5h-5zM776 407h5v19h-5zM782 402h5v6h-5zM800 431h5v15h-5zM806 425h5v6h-5zM818 425h5v8h-5zM830 433h5v7h-5zM842 422h5v14h-5zM848 418h5v5h-5zM854 416h5v3h-5zM860 402h5v15h-5zM878 419h5v11h-5zM920 448h5v11h-5zM926 440h5v8h-5zM932 435h5v5h-5zM938 431h5v5h-5zM943 428h5v3h-5zM955 419h5v12h-5zM973 421h5v4h-5zM979 412h5v9h-5zM985 377h5v35h-5zM991 348h5v29h-5zM997 336h5v13h-5zM1003 318h5v18h-5zM1009 307h5v11h-5zM1015 290h5v18h-5zM1021 287h5v3h-5zM1033 294h5v16h-5zM1051 306h5v6h-5zM1063 283h5v27h-5zM1081 297h5v6h-5zM1087 290h5v7h-5zM1093 275h5v16h-5zM1099 242h5v33h-5zM1105 240h5v1h-5zM1111 224h5v18h-5zM1117 199h5v26h-5zM1123 180h5v19h-5zM1135 153h5v36h-5zM1140 145h5v9h-5zM1146 132h5v13h-5zM1158 115h5v35h-5zM1170 106h5v35h-5zM1176 105h5v1h-5zM1188 109h5v16h-5zM1194 97h5v13h-5zM1218 152h5v16h-5zM1224 146h5v6h-5zM1242 162h5v32h-5zM1260 157h5v22h-5zM1278 139h5v33h-5zM1284 126h5v13h-5zM1296 128h5v21h-5zM1302 102h5v28h-5zM1314 77h5v34h-5zM1320 67h5v11h-5zM1343 150h5v5h-5zM1349 134h5v17h-5zM1355 126h5v9h-5zM1367 141h5v6h-5zM1373 132h5v10h-5z" fill="#1b5a2a"/>
<path d="M13 472h3v20h-3zM43 484h3v7h-3zM49 478h3v4h-3zM61 489h3v10h-3zM67 483h3v4h-3zM91 504h3v6h-3zM156 548h3v3h-3zM162 545h3v2h-3zM168 529h3v15h-3zM186 525h3v4h-3zM192 509h3v14h-3zM198 505h3v3h-3zM234 525h3v1h-3zM246 523h3v2h-3zM264 533h3v1h-3zM270 521h3v10h-3zM276 513h3v6h-3zM300 520h3v3h-3zM359 604h3v9h-3zM365 578h3v25h-3zM377 566h3v12h-3zM389 513h3v57h-3zM401 522h3v1h-3zM407 500h3v20h-3zM413 476h3v21h-3zM419 470h3v4h-3zM437 471h3v6h-3zM443 466h3v4h-3zM449 447h3v18h-3zM473 465h3v2h-3zM479 459h3v4h-3zM503 490h3v7h-3zM515 501h3v6h-3zM521 486h3v13h-3zM533 470h3v17h-3zM550 454h3v17h-3zM562 460h3v1h-3zM568 450h3v8h-3zM574 440h3v7h-3zM580 416h3v23h-3zM586 412h3v2h-3zM598 387h3v31h-3zM616 430h3v4h-3zM622 427h3v1h-3zM646 428h3v41h-3zM652 420h3v6h-3zM664 428h3v4h-3zM670 416h3v10h-3zM682 411h3v13h-3zM688 405h3v5h-3zM700 391h3v12h-3zM706 382h3v8h-3zM741 413h3v1h-3zM747 411h3v2h-3zM759 425h3v1h-3zM771 426h3v3h-3zM777 408h3v17h-3zM783 403h3v4h-3zM801 432h3v13h-3zM807 426h3v4h-3zM819 426h3v6h-3zM831 434h3v5h-3zM843 423h3v12h-3zM849 419h3v3h-3zM855 417h3v1h-3zM861 403h3v13h-3zM879 420h3v9h-3zM921 449h3v9h-3zM927 441h3v6h-3zM933 436h3v3h-3zM939 432h3v3h-3zM944 429h3v1h-3zM956 420h3v10h-3zM974 422h3v2h-3zM980 413h3v7h-3zM986 378h3v33h-3zM992 349h3v27h-3zM998 337h3v11h-3zM1004 319h3v16h-3zM1010 308h3v9h-3zM1016 291h3v16h-3zM1022 288h3v1h-3zM1034 295h3v14h-3zM1052 307h3v4h-3zM1064 284h3v25h-3zM1082 298h3v4h-3zM1088 291h3v5h-3zM1094 276h3v14h-3zM1100 243h3v31h-3zM1112 225h3v16h-3zM1118 200h3v24h-3zM1124 181h3v17h-3zM1136 154h3v34h-3zM1141 146h3v7h-3zM1147 133h3v11h-3zM1159 116h3v33h-3zM1171 107h3v33h-3zM1189 110h3v14h-3zM1195 98h3v11h-3zM1219 153h3v14h-3zM1225 147h3v4h-3zM1243 163h3v30h-3zM1261 158h3v20h-3zM1279 140h3v31h-3zM1285 127h3v11h-3zM1297 129h3v19h-3zM1303 103h3v26h-3zM1315 78h3v32h-3zM1321 68h3v9h-3zM1344 151h3v3h-3zM1350 135h3v15h-3zM1356 127h3v7h-3zM1368 142h3v4h-3zM1374 133h3v8h-3z" fill="#4caf50"/>
<path d="M0 487h5v6h-5zM6 492h5v1h-5zM18 471h5v3h-5zM24 472h5v7h-5zM30 479h5v8h-5zM36 486h5v6h-5zM54 476h5v24h-5zM72 483h5v14h-5zM78 496h5v15h-5zM96 503h5v6h-5zM102 509h5v11h-5zM108 519h5v9h-5zM114 528h5v3h-5zM126 530h5v6h-5zM132 537h5v4h-5zM138 540h5v9h-5zM143 549h5v3h-5zM149 552h5v1h-5zM179 527h5v3h-5zM203 504h5v3h-5zM209 506h5v1h-5zM215 506h5v2h-5zM221 507h5v13h-5zM227 520h5v8h-5zM239 524h5v2h-5zM251 523h5v9h-5zM257 532h5v3h-5zM281 512h5v2h-5zM287 513h5v1h-5zM293 514h5v10h-5zM305 519h5v9h-5zM311 527h5v14h-5zM317 541h5v24h-5zM323 564h5v11h-5zM329 573h5v17h-5zM335 588h5v20h-5zM341 607h5v6h-5zM346 612h5v2h-5zM352 613h5v1h-5zM370 577h5v2h-5zM382 565h5v6h-5zM394 512h5v12h-5zM424 468h5v8h-5zM430 476h5v3h-5zM454 446h5v9h-5zM460 456h5v11h-5zM466 466h5v2h-5zM484 458h5v15h-5zM490 472h5v8h-5zM496 479h5v19h-5zM508 489h5v19h-5zM526 485h5v4h-5zM538 469h5v1h-5zM543 469h5v3h-5zM555 453h5v8h-5zM591 412h5v7h-5zM603 386h5v39h-5zM609 425h5v10h-5zM627 426h5v22h-5zM633 447h5v21h-5zM639 468h5v3h-5zM657 420h5v15h-5zM675 415h5v9h-5zM693 404h5v1h-5zM711 381h5v12h-5zM717 393h5v3h-5zM729 395h5v4h-5zM735 398h5v17h-5zM752 410h5v16h-5zM764 425h5v5h-5zM788 402h5v24h-5zM794 426h5v20h-5zM812 425h5v8h-5zM824 425h5v15h-5zM836 433h5v3h-5zM866 402h5v15h-5zM872 416h5v14h-5zM884 419h5v1h-5zM890 420h5v1h-5zM896 421h5v9h-5zM902 429h5v5h-5zM908 434h5v25h-5zM914 458h5v2h-5zM949 428h5v3h-5zM961 419h5v4h-5zM967 423h5v2h-5zM1027 287h5v23h-5zM1039 294h5v12h-5zM1045 305h5v7h-5zM1057 307h5v3h-5zM1069 283h5v6h-5zM1075 288h5v15h-5zM1129 180h5v10h-5zM1152 132h5v20h-5zM1164 115h5v26h-5zM1182 106h5v20h-5zM1200 97h5v61h-5zM1206 155h5v7h-5zM1212 160h5v8h-5zM1230 146h5v3h-5zM1236 148h5v46h-5zM1248 162h5v17h-5zM1254 177h5v2h-5zM1266 157h5v12h-5zM1272 167h5v6h-5zM1290 126h5v22h-5zM1308 102h5v9h-5zM1326 65h5v7h-5zM1332 71h5v38h-5zM1337 108h5v47h-5zM1361 126h5v21h-5z" fill="#64140c"/>
<path d="M1 488h3v4h-3zM19 472h3v1h-3zM25 473h3v5h-3zM31 480h3v6h-3zM37 487h3v4h-3zM55 477h3v22h-3zM73 484h3v12h-3zM79 497h3v13h-3zM97 504h3v4h-3zM103 510h3v9h-3zM109 520h3v7h-3zM115 529h3v1h-3zM127 531h3v4h-3zM133 538h3v2h-3zM139 541h3v7h-3zM144 550h3v1h-3zM180 528h3v1h-3zM204 505h3v1h-3zM222 508h3v11h-3zM228 521h3v6h-3zM252 524h3v7h-3zM258 533h3v1h-3zM294 515h3v8h-3zM306 520h3v7h-3zM312 528h3v12h-3zM318 542h3v22h-3zM324 565h3v9h-3zM330 574h3v15h-3zM336 589h3v18h-3zM342 608h3v4h-3zM383 566h3v4h-3zM395 513h3v10h-3zM425 469h3v6h-3zM431 477h3v1h-3zM455 447h3v7h-3zM461 457h3v9h-3zM485 459h3v13h-3zM491 473h3v6h-3zM497 480h3v17h-3zM509 490h3v17h-3zM527 486h3v2h-3zM544 470h3v1h-3zM556 454h3v6h-3zM592 413h3v5h-3zM604 387h3v37h-3zM610 426h3v8h-3zM628 427h3v20h-3zM634 448h3v19h-3zM640 469h3v1h-3zM658 421h3v13h-3zM676 416h3v7h-3zM712 382h3v10h-3zM718 394h3v1h-3zM730 396h3v2h-3zM736 399h3v15h-3zM753 411h3v14h-3zM765 426h3v3h-3zM789 403h3v22h-3zM795 427h3v18h-3zM813 426h3v6h-3zM825 426h3v13h-3zM837 434h3v1h-3zM867 403h3v13h-3zM873 417h3v12h-3zM897 422h3v7h-3zM903 430h3v3h-3zM909 435h3v23h-3zM950 429h3v1h-3zM962 420h3v2h-3zM1028 288h3v21h-3zM1040 295h3v10h-3zM1046 306h3v5h-3zM1058 308h3v1h-3zM1070 284h3v4h-3zM1076 289h3v13h-3zM1130 181h3v8h-3zM1153 133h3v18h-3zM1165 116h3v24h-3zM1183 107h3v18h-3zM1201 98h3v59h-3zM1207 156h3v5h-3zM1213 161h3v6h-3zM1231 147h3v1h-3zM1237 149h3v44h-3zM1249 163h3v15h-3zM1267 158h3v10h-3zM1273 168h3v4h-3zM1291 127h3v20h-3zM1309 103h3v7h-3zM1327 66h3v5h-3zM1333 72h3v36h-3zM1338 109h3v45h-3zM1362 127h3v19h-3z" fill="#de5644"/>
</g>
<rect x="1016.5" y="274.6" width="3.8" height="3.8" fill="#000" transform="rotate(30 1018.4 276.5)" shape-rendering="auto"/>
<rect x="1026.9" y="281.0" width="3.8" height="3.8" fill="#000" transform="rotate(30 1028.8 282.9)" shape-rendering="auto"/>
<rect x="1036.9" y="287.5" width="3.8" height="3.8" fill="#000" transform="rotate(30 1038.8 289.4)" shape-rendering="auto"/>
<rect x="1047.4" y="294.2" width="3.8" height="3.8" fill="#000" transform="rotate(30 1049.3 296.1)" shape-rendering="auto"/>
<rect x="1057.3" y="300.5" width="3.8" height="3.8" fill="#000" transform="rotate(30 1059.2 302.4)" shape-rendering="auto"/>
<rect x="1011.0" y="319.4" width="3.8" height="3.8" fill="#000" transform="rotate(30 1012.9 321.3)" shape-rendering="auto"/>
<rect x="1022.6" y="315.9" width="3.8" height="3.8" fill="#000" transform="rotate(30 1024.5 317.8)" shape-rendering="auto"/>
<rect x="1034.1" y="312.9" width="3.8" height="3.8" fill="#000" transform="rotate(30 1036.0 314.8)" shape-rendering="auto"/>
<rect x="1045.9" y="310.4" width="3.8" height="3.8" fill="#000" transform="rotate(30 1047.8 312.3)" shape-rendering="auto"/>
<path d="M3 132h1v1h-1zM6 132h1v1h-1zM9 132h1v1h-1zM12 132h1v1h-1zM15 132h1v1h-1zM18 132h1v1h-1zM21 132h1v1h-1zM24 132h1v1h-1zM27 132h1v1h-1zM30 132h1v1h-1zM33 132h1v1h-1zM36 132h1v1h-1zM39 132h1v1h-1zM42 132h1v1h-1zM45 132h1v1h-1zM48 132h1v1h-1zM51 132h1v1h-1zM54 132h1v1h-1zM57 132h1v1h-1zM60 132h1v1h-1zM63 132h1v1h-1zM66 132h1v1h-1zM69 132h1v1h-1zM72 132h1v1h-1zM75 132h1v1h-1zM78 132h1v1h-1zM81 132h1v1h-1zM84 132h1v1h-1zM87 132h1v1h-1zM90 132h1v1h-1zM93 132h1v1h-1zM96 132h1v1h-1zM99 132h1v1h-1zM102 132h1v1h-1zM105 132h1v1h-1zM108 132h1v1h-1zM111 132h1v1h-1zM114 132h1v1h-1zM117 132h1v1h-1zM120 132h1v1h-1zM123 132h1v1h-1zM126 132h1v1h-1zM129 132h1v1h-1zM132 132h1v1h-1zM135 132h1v1h-1zM138 132h1v1h-1zM141 132h1v1h-1zM144 132h1v1h-1zM147 132h1v1h-1zM150 132h1v1h-1zM153 132h1v1h-1zM156 132h1v1h-1zM159 132h1v1h-1zM162 132h1v1h-1zM165 132h1v1h-1zM168 132h1v1h-1zM171 132h1v1h-1zM174 132h1v1h-1zM177 132h1v1h-1zM180 132h1v1h-1zM183 132h1v1h-1zM186 132h1v1h-1zM189 132h1v1h-1zM192 132h1v1h-1zM195 132h1v1h-1zM198 132h1v1h-1zM201 132h1v1h-1zM204 132h1v1h-1zM207 132h1v1h-1zM210 132h1v1h-1zM213 132h1v1h-1zM216 132h1v1h-1zM219 132h1v1h-1zM222 132h1v1h-1zM225 132h1v1h-1zM228 132h1v1h-1zM231 132h1v1h-1zM234 132h1v1h-1zM237 132h1v1h-1zM240 132h1v1h-1zM243 132h1v1h-1zM246 132h1v1h-1zM249 132h1v1h-1zM252 132h1v1h-1zM255 132h1v1h-1zM258 132h1v1h-1zM261 132h1v1h-1zM264 132h1v1h-1zM267 132h1v1h-1zM270 132h1v1h-1zM273 132h1v1h-1zM276 132h1v1h-1zM279 132h1v1h-1zM282 132h1v1h-1zM285 132h1v1h-1zM288 132h1v1h-1zM291 132h1v1h-1zM294 132h1v1h-1zM297 132h1v1h-1zM300 132h1v1h-1zM303 132h1v1h-1zM306 132h1v1h-1zM309 132h1v1h-1zM312 132h1v1h-1zM315 132h1v1h-1zM318 132h1v1h-1zM321 132h1v1h-1zM324 132h1v1h-1zM327 132h1v1h-1zM330 132h1v1h-1zM333 132h1v1h-1zM336 132h1v1h-1zM339 132h1v1h-1zM342 132h1v1h-1zM345 132h1v1h-1zM348 132h1v1h-1zM351 132h1v1h-1zM354 132h1v1h-1zM357 132h1v1h-1zM360 132h1v1h-1zM363 132h1v1h-1zM366 132h1v1h-1zM369 132h1v1h-1zM372 132h1v1h-1zM375 132h1v1h-1zM378 132h1v1h-1zM381 132h1v1h-1zM384 132h1v1h-1zM387 132h1v1h-1zM390 132h1v1h-1zM393 132h1v1h-1zM396 132h1v1h-1zM399 132h1v1h-1zM402 132h1v1h-1zM405 132h1v1h-1zM408 132h1v1h-1zM411 132h1v1h-1zM414 132h1v1h-1zM417 132h1v1h-1zM420 132h1v1h-1zM423 132h1v1h-1zM426 132h1v1h-1zM429 132h1v1h-1zM432 132h1v1h-1zM435 132h1v1h-1zM438 132h1v1h-1zM441 132h1v1h-1zM444 132h1v1h-1zM447 132h1v1h-1zM450 132h1v1h-1zM453 132h1v1h-1zM456 132h1v1h-1zM459 132h1v1h-1zM462 132h1v1h-1zM465 132h1v1h-1zM468 132h1v1h-1zM471 132h1v1h-1zM474 132h1v1h-1zM477 132h1v1h-1zM480 132h1v1h-1zM483 132h1v1h-1zM486 132h1v1h-1zM489 132h1v1h-1zM492 132h1v1h-1zM495 132h1v1h-1zM498 132h1v1h-1zM501 132h1v1h-1zM504 132h1v1h-1zM507 132h1v1h-1zM510 132h1v1h-1zM513 132h1v1h-1zM516 132h1v1h-1zM519 132h1v1h-1zM522 132h1v1h-1zM525 132h1v1h-1zM528 132h1v1h-1zM531 132h1v1h-1zM534 132h1v1h-1zM537 132h1v1h-1zM540 132h1v1h-1zM543 132h1v1h-1zM546 132h1v1h-1zM549 132h1v1h-1zM552 132h1v1h-1zM555 132h1v1h-1zM558 132h1v1h-1zM561 132h1v1h-1zM564 132h1v1h-1zM567 132h1v1h-1zM570 132h1v1h-1zM573 132h1v1h-1zM576 132h1v1h-1zM579 132h1v1h-1zM582 132h1v1h-1zM585 132h1v1h-1zM588 132h1v1h-1zM591 132h1v1h-1zM594 132h1v1h-1zM597 132h1v1h-1zM600 132h1v1h-1zM603 132h1v1h-1zM606 132h1v1h-1zM609 132h1v1h-1zM612 132h1v1h-1zM615 132h1v1h-1zM618 132h1v1h-1zM621 132h1v1h-1zM624 132h1v1h-1zM627 132h1v1h-1zM630 132h1v1h-1zM633 132h1v1h-1zM636 132h1v1h-1zM639 132h1v1h-1zM642 132h1v1h-1zM645 132h1v1h-1zM648 132h1v1h-1zM651 132h1v1h-1zM654 132h1v1h-1zM657 132h1v1h-1zM660 132h1v1h-1zM663 132h1v1h-1zM666 132h1v1h-1zM669 132h1v1h-1zM672 132h1v1h-1zM675 132h1v1h-1zM678 132h1v1h-1zM681 132h1v1h-1zM684 132h1v1h-1zM687 132h1v1h-1zM690 132h1v1h-1zM693 132h1v1h-1zM696 132h1v1h-1zM699 132h1v1h-1zM702 132h1v1h-1zM705 132h1v1h-1zM708 132h1v1h-1zM711 132h1v1h-1zM714 132h1v1h-1zM717 132h1v1h-1zM720 132h1v1h-1zM723 132h1v1h-1zM726 132h1v1h-1zM729 132h1v1h-1zM732 132h1v1h-1zM735 132h1v1h-1zM738 132h1v1h-1zM741 132h1v1h-1zM744 132h1v1h-1zM747 132h1v1h-1zM750 132h1v1h-1zM753 132h1v1h-1zM756 132h1v1h-1zM759 132h1v1h-1zM762 132h1v1h-1zM765 132h1v1h-1zM768 132h1v1h-1zM771 132h1v1h-1zM774 132h1v1h-1zM777 132h1v1h-1zM780 132h1v1h-1zM783 132h1v1h-1zM786 132h1v1h-1zM789 132h1v1h-1zM792 132h1v1h-1zM795 132h1v1h-1zM798 132h1v1h-1zM801 132h1v1h-1zM804 132h1v1h-1zM807 132h1v1h-1zM810 132h1v1h-1zM813 132h1v1h-1zM816 132h1v1h-1zM819 132h1v1h-1zM822 132h1v1h-1zM825 132h1v1h-1zM828 132h1v1h-1zM831 132h1v1h-1zM834 132h1v1h-1zM837 132h1v1h-1zM840 132h1v1h-1zM843 132h1v1h-1zM846 132h1v1h-1zM849 132h1v1h-1zM852 132h1v1h-1zM855 132h1v1h-1zM858 132h1v1h-1zM861 132h1v1h-1zM864 132h1v1h-1zM867 132h1v1h-1zM870 132h1v1h-1zM873 132h1v1h-1zM876 132h1v1h-1zM879 132h1v1h-1zM882 132h1v1h-1zM885 132h1v1h-1zM888 132h1v1h-1zM891 132h1v1h-1zM894 132h1v1h-1zM897 132h1v1h-1zM900 132h1v1h-1zM903 132h1v1h-1zM906 132h1v1h-1zM909 132h1v1h-1zM912 132h1v1h-1zM915 132h1v1h-1zM918 132h1v1h-1zM921 132h1v1h-1zM924 132h1v1h-1zM927 132h1v1h-1zM930 132h1v1h-1zM933 132h1v1h-1zM936 132h1v1h-1zM939 132h1v1h-1zM942 132h1v1h-1zM945 132h1v1h-1zM948 132h1v1h-1zM951 132h1v1h-1zM954 132h1v1h-1zM957 132h1v1h-1zM960 132h1v1h-1zM963 132h1v1h-1zM966 132h1v1h-1zM969 132h1v1h-1zM972 132h1v1h-1zM975 132h1v1h-1zM978 132h1v1h-1zM981 132h1v1h-1zM984 132h1v1h-1zM987 132h1v1h-1zM990 132h1v1h-1zM993 132h1v1h-1zM996 132h1v1h-1zM999 132h1v1h-1zM1002 132h1v1h-1zM1005 132h1v1h-1zM1008 132h1v1h-1zM1011 132h1v1h-1zM1014 132h1v1h-1zM1017 132h1v1h-1zM1020 132h1v1h-1zM1023 132h1v1h-1zM1026 132h1v1h-1zM1029 132h1v1h-1zM1032 132h1v1h-1zM1035 132h1v1h-1zM1038 132h1v1h-1zM1041 132h1v1h-1zM1044 132h1v1h-1zM1047 132h1v1h-1zM1050 132h1v1h-1zM1053 132h1v1h-1zM1056 132h1v1h-1zM1059 132h1v1h-1zM1062 132h1v1h-1zM1065 132h1v1h-1zM1068 132h1v1h-1zM1071 132h1v1h-1zM1074 132h1v1h-1zM1077 132h1v1h-1zM1080 132h1v1h-1zM1083 132h1v1h-1zM1086 132h1v1h-1zM1089 132h1v1h-1zM1092 132h1v1h-1zM1095 132h1v1h-1zM1098 132h1v1h-1zM1101 132h1v1h-1zM1104 132h1v1h-1zM1107 132h1v1h-1zM1110 132h1v1h-1zM1113 132h1v1h-1zM1116 132h1v1h-1zM1119 132h1v1h-1zM1122 132h1v1h-1zM1125 132h1v1h-1zM1128 132h1v1h-1zM1131 132h1v1h-1zM1134 132h1v1h-1zM1137 132h1v1h-1zM1140 132h1v1h-1zM1143 132h1v1h-1zM1146 132h1v1h-1zM1149 132h1v1h-1zM1152 132h1v1h-1zM1155 132h1v1h-1zM1158 132h1v1h-1zM1161 132h1v1h-1zM1164 132h1v1h-1zM1167 132h1v1h-1zM1170 132h1v1h-1zM1173 132h1v1h-1zM1176 132h1v1h-1zM1179 132h1v1h-1zM1182 132h1v1h-1zM1185 132h1v1h-1zM1188 132h1v1h-1zM1191 132h1v1h-1zM1194 132h1v1h-1zM1197 132h1v1h-1zM1200 132h1v1h-1zM1203 132h1v1h-1zM1206 132h1v1h-1zM1209 132h1v1h-1zM1212 132h1v1h-1zM1215 132h1v1h-1zM1218 132h1v1h-1zM1221 132h1v1h-1zM1224 132h1v1h-1zM1227 132h1v1h-1zM1230 132h1v1h-1zM1233 132h1v1h-1zM1236 132h1v1h-1zM1239 132h1v1h-1zM1242 132h1v1h-1zM1245 132h1v1h-1zM1248 132h1v1h-1zM1251 132h1v1h-1zM1254 132h1v1h-1zM1257 132h1v1h-1zM1260 132h1v1h-1zM1263 132h1v1h-1zM1266 132h1v1h-1zM1269 132h1v1h-1zM1272 132h1v1h-1zM1275 132h1v1h-1zM1278 132h1v1h-1zM1281 132h1v1h-1zM1284 132h1v1h-1zM1287 132h1v1h-1zM1290 132h1v1h-1zM1293 132h1v1h-1zM1296 132h1v1h-1zM1299 132h1v1h-1zM1302 132h1v1h-1zM1305 132h1v1h-1zM1308 132h1v1h-1zM1311 132h1v1h-1zM1314 132h1v1h-1zM1317 132h1v1h-1zM1320 132h1v1h-1zM1323 132h1v1h-1zM1326 132h1v1h-1zM1329 132h1v1h-1zM1332 132h1v1h-1zM1335 132h1v1h-1zM1338 132h1v1h-1zM1341 132h1v1h-1zM1344 132h1v1h-1zM1347 132h1v1h-1zM1350 132h1v1h-1zM1353 132h1v1h-1zM1356 132h1v1h-1zM1359 132h1v1h-1zM1362 132h1v1h-1zM1365 132h1v1h-1zM1368 132h1v1h-1zM1371 132h1v1h-1zM1374 132h1v1h-1zM1377 132h1v1h-1zM1380 132h1v1h-1zM1383 132h1v1h-1zM1386 132h1v1h-1zM1389 132h1v1h-1zM1392 132h1v1h-1zM1395 132h1v1h-1zM1398 132h1v1h-1zM1401 132h1v1h-1zM1404 132h1v1h-1zM1407 132h1v1h-1zM1410 132h1v1h-1zM1413 132h1v1h-1zM1416 132h1v1h-1zM1419 132h1v1h-1zM1422 132h1v1h-1zM1425 132h1v1h-1zM1428 132h1v1h-1zM1431 132h1v1h-1zM1434 132h1v1h-1zM1437 132h1v1h-1z" fill="#4caf50"/>
<path d="M3.0 693.3 L7.0 694.3 L12.0 692.9 L19.9 693.5 L29.9 693.9 L39.9 694.9 L49.8 695.5 L55.8 693.5 L65.8 692.9 L75.7 692.3 L85.7 693.5 L99.7 694.3 L115.6 695.5 L123.6 696.3 L139.5 696.9 L151.5 698.3 L159.5 698.9 L169.4 698.3 L179.4 698.9 L187.4 698.9 L195.3 698.1 L205.3 699.4 L211.3 699.4 L219.3 700.4 L229.2 701.4 L239.2 702.8 L251.1 702.8 L263.1 703.8 L271.1 703.2 L283.0 704.4 L290.0 703.8 L296.0 703.2 L305.9 704.4 L312.9 703.8 L318.9 701.4 L325.9 700.2 L331.9 697.9 L337.8 697.3 L345.8 697.5 L353.8 697.9 L359.8 696.9 L365.7 695.5 L371.7 696.1 L383.7 696.3 L389.7 690.9 L395.6 690.5 L401.6 690.5 L407.6 688.9 L413.6 687.9 L419.6 687.5 L425.5 687.9 L433.5 687.5 L443.5 687.7 L449.5 686.9 L455.4 687.7 L461.4 687.3 L467.4 687.3 L473.4 688.5 L479.4 688.9 L485.3 689.5 L493.3 689.7 L503.3 689.7 L509.3 689.3 L515.2 689.3 L521.2 688.5 L527.2 688.5 L533.2 687.9 L539.2 688.5 L545.1 688.9 L551.1 688.3 L557.1 688.9 L563.1 690.1 L569.1 691.1 L575.0 691.3 L580.0 690.5 L587.0 691.3 L593.0 691.7 L598.9 689.3 L604.9 679.9 L610.9 679.7 L616.9 680.5 L622.9 681.3 L628.8 680.5 L634.8 680.3 L640.8 681.1 L646.8 679.1 L652.8 679.5 L658.7 679.7 L664.7 680.5 L670.7 681.1 L676.7 682.1 L682.7 683.1 L688.6 683.5 L695.6 685.9 L701.6 686.5 L709.6 686.7 L717.5 687.5 L725.5 690.3 L731.5 689.9 L737.5 688.7 L742.4 689.3 L749.4 687.5 L754.4 687.1 L760.4 687.9 L766.4 688.1 L772.3 687.1 L778.3 686.3 L784.3 687.3 L790.3 686.7 L796.3 686.3 L802.2 686.7 L808.2 687.5 L814.2 688.3 L820.2 688.7 L826.2 688.5 L832.1 689.3 L838.1 690.5 L844.1 690.9 L850.1 691.1 L856.1 690.5 L862.0 689.3 L868.0 688.5 L870.0 688.3 L876.0 688.1 L885.9 689.7 L895.9 690.7 L903.9 691.5 L909.9 689.1 L916.8 690.3 L927.8 690.9 L935.8 691.9 L943.7 693.1 L949.7 693.7 L956.7 693.3 L963.7 694.3 L969.7 695.5 L975.6 696.3 L981.0 695.7 L987.6 691.9 L993.6 689.9 L999.6 688.9 L1005.5 688.3 L1011.5 688.3 L1017.5 686.5 L1023.5 687.5 L1029.5 686.5 L1039.4 686.5 L1047.4 687.5 L1053.4 688.3 L1059.4 689.1 L1065.3 687.3 L1071.3 684.3 L1077.3 684.1 L1083.3 684.9 L1089.3 684.5 L1095.2 684.5 L1101.2 682.5 L1106.2 684.7 L1113.2 683.9 L1119.2 683.3 L1125.1 682.7 L1131.1 682.5 L1137.1 680.1 L1142.1 678.5 L1149.1 678.5 L1150.0 678.5 L1159.0 676.3 L1165.9 671.5 L1171.9 670.1 L1177.9 670.3 L1183.9 670.5 L1189.9 670.9 L1195.8 670.3 L1201.8 669.0 L1207.8 668.8 L1213.8 669.6 L1219.8 669.7 L1225.7 670.7 L1231.7 671.3 L1237.7 670.5 L1243.7 670.1 L1249.7 670.1 L1255.6 669.9 L1261.6 669.9 L1267.6 671.1 L1273.6 672.5 L1279.6 672.5 L1285.5 672.5 L1291.5 672.9 L1297.5 673.5 L1303.5 673.5 L1309.5 674.1 L1315.4 673.3 L1321.4 672.9 L1327.4 673.3 L1333.4 672.5 L1338.4 671.3 L1344.3 672.3 L1351.3 673.3 L1357.3 674.1 L1363.3 674.5 L1369.3 674.9 L1375.2 676.1" stroke="#b71c1c" stroke-width="1.0" fill="none" shape-rendering="geometricPrecision" stroke-linejoin="round" stroke-linecap="round"/>
<path d="M3.0 738.7 L8.0 740.7 L14.0 732.7 L19.9 736.3 L25.9 740.7 L31.9 746.7 L37.9 750.3 L43.9 750.7 L49.8 747.9 L55.8 753.9 L61.8 755.1 L67.8 752.3 L73.7 757.7 L79.7 766.6 L85.7 773.2 L91.7 772.0 L97.7 774.0 L103.6 781.6 L109.6 783.6 L115.6 780.6 L121.6 778.6 L129.6 778.2 L139.5 779.0 L147.5 777.6 L155.5 774.6 L162.4 771.2 L169.4 764.2 L175.4 761.0 L180.4 762.0 L186.4 757.7 L192.3 749.7 L199.3 741.1 L209.3 741.7 L216.3 743.3 L222.2 749.7 L229.2 756.3 L235.2 757.1 L247.2 755.7 L253.1 761.6 L259.1 765.2 L265.1 767.6 L271.1 758.6 L278.1 752.3 L289.0 750.1 L290.0 751.7 L295.0 763.2 L301.0 761.6 L306.9 766.6 L312.9 778.6 L318.9 793.5 L324.9 796.9 L330.9 792.1 L336.8 793.1 L342.8 788.1 L347.8 782.0 L353.8 778.2 L359.8 774.6 L365.7 767.2 L371.7 764.6 L377.7 762.0 L383.7 760.6 L389.7 751.3 L395.6 748.7 L402.6 747.3 L408.6 741.7 L414.6 738.3 L420.0 736.7 L425.5 740.7 L431.5 744.1 L437.5 744.7 L443.5 745.7 L449.5 744.7 L455.4 745.9 L461.4 748.1 L468.0 750.3 L474.4 750.3 L480.4 749.3 L486.3 752.3 L492.3 756.7 L498.3 762.0 L504.3 764.6 L510.3 772.0 L515.8 774.6 L522.2 768.0 L528.2 765.6 L534.2 758.2 L540.1 752.7 L545.1 757.7 L551.1 747.1 L557.1 748.1 L563.1 749.1 L569.1 745.7 L575.0 740.3 L580.0 732.7 L587.0 732.1 L593.0 738.3 L598.9 735.3 L604.9 737.7 L610.9 751.1 L616.9 751.3 L622.9 751.3 L628.8 757.7 L634.8 766.0 L640.8 768.2 L646.8 760.0 L652.8 750.7 L658.7 755.1 L664.7 756.3 L670.7 752.1 L676.7 753.3 L682.7 750.3 L688.6 743.1 L694.6 746.3 L700.6 742.7 L707.0 739.3 L712.5 742.3 L718.5 746.1 L724.5 747.1 L730.5 747.3 L737.1 756.1 L742.4 757.5 L748.0 757.7 L754.0 766.0 L760.0 767.6 L766.0 771.2 L771.9 770.0 L777.9 759.6 L783.9 756.3 L789.9 768.6 L795.9 782.0 L801.8 777.2 L807.8 768.6 L813.8 771.2 L819.8 767.2 L826.2 771.0 L832.1 771.4 L838.1 769.6 L844.1 762.0 L850.1 752.7 L856.1 747.7 L861.6 740.7 L868.0 748.7 L870.0 752.7 L874.0 763.2 L880.0 758.2 L885.9 754.1 L891.9 760.0 L897.9 763.0 L904.9 770.6 L909.9 781.6 L915.8 792.5 L921.8 780.6 L927.8 772.6 L933.8 764.6 L939.8 760.0 L945.7 757.9 L951.7 757.7 L957.7 754.3 L963.7 754.1 L969.7 752.7 L975.6 752.3 L981.0 744.3 L986.6 724.2 L993.0 713.6 L999.6 719.2 L1005.5 727.4 L1011.5 732.1 L1017.5 735.1 L1023.5 738.7 L1029.5 744.1 L1035.4 745.7 L1041.4 748.1 L1047.4 749.7 L1053.4 751.3 L1059.4 751.7 L1065.3 749.3 L1070.9 747.3 L1077.3 751.7 L1083.3 751.7 L1089.3 749.3 L1095.2 747.3 L1101.2 735.3 L1107.2 729.3 L1113.2 727.8 L1119.2 728.0 L1125.1 730.3 L1131.1 735.7 L1137.1 736.9 L1143.1 737.1 L1148.1 737.9 L1150.0 739.7 L1154.0 742.3 L1159.0 742.1 L1164.9 742.3 L1170.9 745.1 L1177.9 744.3 L1183.9 747.1 L1189.9 747.1 L1195.8 746.1 L1201.8 752.7 L1207.8 759.0 L1213.8 759.6 L1219.8 759.6 L1225.7 758.0 L1231.7 761.0 L1237.7 772.6 L1243.7 771.2 L1249.7 773.6 L1255.6 775.2 L1261.6 768.6 L1267.6 767.2 L1273.6 768.2 L1279.6 760.6 L1285.5 750.7 L1291.5 754.7 L1297.5 752.1 L1303.5 741.7 L1309.5 739.7 L1315.4 731.3 L1321.8 729.7 L1327.4 736.7 L1333.4 745.7 L1338.4 758.6 L1344.3 762.2 L1350.3 759.6 L1356.3 758.2 L1362.3 761.2 L1369.3 764.2 L1375.2 762.2" stroke="#2962ff" stroke-width="1.05" fill="none" shape-rendering="geometricPrecision" stroke-linejoin="round" stroke-linecap="round"/>
<path d="M1438 2h1v829h-1zM3 803h1499v1h-1499z" fill="#484848"/>
</g></svg>
<div style="position:absolute;left:7px;top:34px;width:160px;height:24px;background:rgba(255,255,255,.5)"></div>
<div class="btn" style="left:11px;top:34px;width:62px;height:24px;border:1px solid #f23645"></div>
<div class="btn" style="left:100px;top:34px;width:62px;height:24px;border:1px solid #2962ff"></div>
<div class="btn" style="left:12px;top:88px;width:29px;height:21px;border:1px solid #d1d4dc;border-radius:4px"></div>
<svg width="12" height="8" style="left:20.5px;top:94.5px" viewBox="0 0 12 8"><path d="M1.8 6 L6 2 L10.2 6" stroke="#222" stroke-width="1.4" fill="none"/></svg>
<div class="btn" style="left:1442px;top:6px;width:56px;height:26px;border:1px solid #e0e3eb;border-radius:5px"></div>
<svg width="8" height="6" style="left:1486.5px;top:16.5px" viewBox="0 0 8 6"><path d="M1.4 1.6 L4 4.2 L6.6 1.6" stroke="#222" stroke-width="1.3" fill="none"/></svg>
<svg width="18" height="18" style="left:12px;top:9px" viewBox="0 0 18 18"><circle cx="9" cy="9" r="9" fill="#d4990a"/>
<path d="M6.9 5.1h4.2l1.3 2.6H5.6zM4.3 8.6h3.4l1.2 2.6H2.9zM10.3 8.6h3.4l1.4 2.6H9.1z" fill="#fff"/></svg>
<svg width="18" height="18" style="left:294px;top:9px" viewBox="0 0 18 18"><circle cx="9" cy="9" r="8.4" fill="#d9efea"/><circle cx="9" cy="9" r="3.7" fill="#089981"/></svg>
<svg width="30" height="15" style="left:15px;top:774px" viewBox="0 0 36 18"><path d="M14 18H7V7H0V0h14v18zM28 18h-8l7.500-18h8L28 18z" fill="#131722"/><circle cx="20" cy="4" r="4" fill="#131722"/></svg>
<svg width="16" height="16" style="left:1462px;top:809.5px" viewBox="0 0 16 16"><path d="M4.6 1.9h6.8l3.4 6.100-3.400 6.100H4.600L1.200 8z" fill="#fff" stroke="#222" stroke-width="1.100"/><circle cx="8" cy="8" r="1.900" fill="none" stroke="#222" stroke-width="1.100"/></svg>
<span class="t" id="t0" style="left:34.30px;top:10.50px;font-size:16px;color:#5a5a5a;font-weight:400;transform:scaleX(0.9240)">CFDs on Gold (US$ / OZ) · 1D · TVC</span>
<span class="t" id="t1" style="left:328.80px;top:11.80px;font-size:13px;color:#5a5a5a;font-weight:400;transform:scaleX(0.8593)">O</span>
<span class="t" id="t2" style="left:338.00px;top:11.80px;font-size:13px;color:#2d6247;font-weight:400;transform:scaleX(0.9939)">2,343.69</span>
<span class="t" id="t3" style="left:395.00px;top:11.80px;font-size:13px;color:#5a5a5a;font-weight:400;transform:scaleX(0.8839)">H</span>
<span class="t" id="t4" style="left:403.80px;top:11.80px;font-size:13px;color:#2d6247;font-weight:400;transform:scaleX(0.9978)">2,353.97</span>
<span class="t" id="t5" style="left:461.00px;top:11.80px;font-size:13px;color:#5a5a5a;font-weight:400;transform:scaleX(0.8294)">L</span>
<span class="t" id="t6" style="left:467.50px;top:11.80px;font-size:13px;color:#2d6247;font-weight:400;transform:scaleX(0.9978)">2,337.08</span>
<span class="t" id="t7" style="left:525.00px;top:11.80px;font-size:13px;color:#5a5a5a;font-weight:400;transform:scaleX(0.7987)">C</span>
<span class="t" id="t8" style="left:533.00px;top:11.80px;font-size:13px;color:#2d6247;font-weight:400;transform:scaleX(0.9978)">2,353.48</span>
<span class="t" id="t9" style="left:590.50px;top:11.80px;font-size:13px;color:#2d6247;font-weight:400;transform:scaleX(0.9428)">+9.67 (+0.41%)</span>
<span class="t" id="t10" style="left:19.70px;top:39.50px;font-size:13px;color:#f23645;font-weight:400;transform:scaleX(0.9532)">2353.60</span>
<span class="t" id="t11" style="left:80.80px;top:40.50px;font-size:11px;color:#131722;font-weight:400;transform:scaleX(0.9143)">20</span>
<span class="t" id="t12" style="left:109.00px;top:39.50px;font-size:13px;color:#2962ff;font-weight:400;transform:scaleX(0.9532)">2353.80</span>
<span class="t" id="t13" style="left:12.00px;top:68.60px;font-size:12.4px;color:#5a5a5a;font-weight:400;transform:scaleX(0.9816)">MA Ribbon SMA close 20 SMA close 50 SMA close 100 SMA close 200</span>
<span class="t" id="t14" style="left:403.60px;top:67.75px;font-size:12.3px;color:#f23645;font-weight:400;transform:scaleX(1.0214)">2,357.91</span>
<span class="t" id="t15" style="left:460.00px;top:67.75px;font-size:12.3px;color:#2962ff;font-weight:400;transform:scaleX(1.0298)">2,328.55</span>
<span class="t" id="t16" style="left:515.80px;top:67.75px;font-size:12.3px;color:#131722;font-weight:400;transform:scaleX(0.7400)">∅</span>
<span class="t" id="t17" style="left:530.70px;top:67.75px;font-size:12.3px;color:#131722;font-weight:400;transform:scaleX(1.0214)">2,083.56</span>
<span class="t" id="t18" style="left:12.40px;top:677.90px;font-size:12px;color:#5a5a5a;font-weight:400;transform:scaleX(0.9585)">ATR 14 RMA</span>
<span class="t" id="t19" style="left:87.70px;top:677.90px;font-size:12px;color:#b71c1c;font-weight:400;transform:scaleX(1.0489)">33.49</span>
<span class="t" id="t20" style="left:12.40px;top:719.80px;font-size:12px;color:#5a5a5a;font-weight:400;transform:scaleX(0.9981)">CCI 20 hlc3 SMA 5</span>
<span class="t" id="t21" style="left:122.60px;top:719.80px;font-size:12px;color:#2962ff;font-weight:400;transform:scaleX(1.0095)">−24.58</span>
<span class="t" id="t22" style="left:64.30px;top:810.80px;font-size:12px;color:#5a5a5a;font-weight:400;transform:scaleX(0.9364)">Aug</span>
<span class="t" id="t23" style="left:201.30px;top:810.80px;font-size:12px;color:#5a5a5a;font-weight:400;transform:scaleX(0.9364)">Sep</span>
<span class="t" id="t24" style="left:328.05px;top:810.80px;font-size:12px;color:#5a5a5a;font-weight:400;transform:scaleX(0.9908)">Oct</span>
<span class="t" id="t25" style="left:458.30px;top:810.80px;font-size:12px;color:#5a5a5a;font-weight:400;transform:scaleX(0.9370)">Nov</span>
<span class="t" id="t26" style="left:589.30px;top:810.80px;font-size:12px;color:#5a5a5a;font-weight:400;transform:scaleX(0.9370)">Dec</span>
<span class="t" id="t27" style="left:711.05px;top:810.80px;font-size:12px;color:#5a5a5a;font-weight:700;transform:scaleX(1.0298)">2024</span>
<span class="t" id="t28" style="left:852.50px;top:810.80px;font-size:12px;color:#5a5a5a;font-weight:400;transform:scaleX(0.9378)">Feb</span>
<span class="t" id="t29" style="left:977.80px;top:810.80px;font-size:12px;color:#5a5a5a;font-weight:400;transform:scaleX(0.9385)">Mar</span>
<span class="t" id="t30" style="left:1104.05px;top:810.80px;font-size:12px;color:#5a5a5a;font-weight:400;transform:scaleX(0.9900)">Apr</span>
<span class="t" id="t31" style="left:1233.30px;top:810.80px;font-size:12px;color:#5a5a5a;font-weight:400;transform:scaleX(0.9704)">May</span>
<span class="t" id="t32" style="left:1372.05px;top:810.80px;font-size:12px;color:#5a5a5a;font-weight:400;transform:scaleX(0.9556)">Jun</span>
<span class="t" id="t33" style="left:1446.20px;top:625.46px;font-size:12.6px;color:#5a5a5a;font-weight:400;transform:scaleX(0.9484)">1,800.00</span>
<span class="t" id="t34" style="left:1446.20px;top:589.32px;font-size:12.6px;color:#5a5a5a;font-weight:400;transform:scaleX(0.9484)">1,840.00</span>
<span class="t" id="t35" style="left:1446.20px;top:553.17px;font-size:12.6px;color:#5a5a5a;font-weight:400;transform:scaleX(0.9484)">1,880.00</span>
<span class="t" id="t36" style="left:1446.20px;top:517.03px;font-size:12.6px;color:#5a5a5a;font-weight:400;transform:scaleX(0.9484)">1,920.00</span>
<span class="t" id="t37" style="left:1446.20px;top:480.88px;font-size:12.6px;color:#5a5a5a;font-weight:400;transform:scaleX(0.9484)">1,960.00</span>
<span class="t" id="t38" style="left:1446.20px;top:444.74px;font-size:12.6px;color:#5a5a5a;font-weight:400;transform:scaleX(0.9484)">2,000.00</span>
<span class="t" id="t39" style="left:1446.20px;top:408.60px;font-size:12.6px;color:#5a5a5a;font-weight:400;transform:scaleX(0.9484)">2,040.00</span>
<span class="t" id="t40" style="left:1446.20px;top:372.45px;font-size:12.6px;color:#5a5a5a;font-weight:400;transform:scaleX(0.9484)">2,080.00</span>
<span class="t" id="t41" style="left:1446.20px;top:336.31px;font-size:12.6px;color:#5a5a5a;font-weight:400;transform:scaleX(0.9484)">2,120.00</span>
<span class="t" id="t42" style="left:1446.20px;top:300.16px;font-size:12.6px;color:#5a5a5a;font-weight:400;transform:scaleX(0.9484)">2,160.00</span>
<span class="t" id="t43" style="left:1446.20px;top:264.02px;font-size:12.6px;color:#5a5a5a;font-weight:400;transform:scaleX(0.9484)">2,200.00</span>
<span class="t" id="t44" style="left:1446.20px;top:227.88px;font-size:12.6px;color:#5a5a5a;font-weight:400;transform:scaleX(0.9484)">2,240.00</span>
<span class="t" id="t45" style="left:1446.20px;top:191.73px;font-size:12.6px;color:#5a5a5a;font-weight:400;transform:scaleX(0.9484)">2,280.00</span>
<span class="t" id="t46" style="left:1446.20px;top:155.59px;font-size:12.6px;color:#5a5a5a;font-weight:400;transform:scaleX(0.9484)">2,320.00</span>
<span class="t" id="t47" style="left:1446.20px;top:119.44px;font-size:12.6px;color:#5a5a5a;font-weight:400;transform:scaleX(0.9484)">2,360.00</span>
<span class="t" id="t48" style="left:1446.20px;top:83.30px;font-size:12.6px;color:#5a5a5a;font-weight:400;transform:scaleX(0.9484)">2,400.00</span>
<span class="t" id="t49" style="left:1446.20px;top:47.16px;font-size:12.6px;color:#5a5a5a;font-weight:400;transform:scaleX(0.9484)">2,440.00</span>
<span class="t" id="t50" style="left:1446.30px;top:679.60px;font-size:12.6px;color:#5a5a5a;font-weight:400;transform:scaleX(0.9202)">25.00</span>
<span class="t" id="t51" style="left:1446.20px;top:719.50px;font-size:12.6px;color:#5a5a5a;font-weight:400;transform:scaleX(0.9239)">250.00</span>
<span class="t" id="t52" style="left:1446.20px;top:753.30px;font-size:12.6px;color:#5a5a5a;font-weight:400;transform:scaleX(0.9423)">0.00</span>
<span class="t" id="t53" style="left:1446.90px;top:787.20px;font-size:12.6px;color:#5a5a5a;font-weight:400;transform:scaleX(0.8916)">−250.00</span>
<span class="t" id="t54" style="left:1446.20px;top:12.60px;font-size:12px;color:#131722;font-weight:400;transform:scaleX(0.7970)">USD</span>
<div class="bx" style="top:36px;height:16.5px"></div>
<div class="bx" style="top:190px;height:16.5px"></div>
<div class="bx" style="top:267.5px;height:16.5px"></div>
<div class="bx" style="top:309.5px;height:16.5px"></div>
<div class="bx" style="top:453.7px;height:17.100000000000023px"></div>
<div class="bx" style="top:471.2px;height:16.600000000000023px"></div>
<div class="bx" style="top:507.8px;height:16.69999999999999px"></div>
<div class="bx" style="top:615.3px;height:16.40000000000009px"></div>
<span class="t" id="t55" style="left:1446.30px;top:38.35px;font-size:12.4px;color:#fff;font-weight:700;transform:scaleX(0.9537)">2,450.56</span>
<span class="t" id="t56" style="left:1446.30px;top:192.35px;font-size:12.4px;color:#fff;font-weight:700;transform:scaleX(0.9537)">2,280.57</span>
<span class="t" id="t57" style="left:1446.30px;top:269.85px;font-size:12.4px;color:#fff;font-weight:700;transform:scaleX(0.9537)">2,193.44</span>
<span class="t" id="t58" style="left:1446.30px;top:311.85px;font-size:12.4px;color:#fff;font-weight:700;transform:scaleX(0.9537)">2,147.28</span>
<span class="t" id="t59" style="left:1446.30px;top:456.35px;font-size:12.4px;color:#fff;font-weight:700;transform:scaleX(0.9537)">1,987.90</span>
<span class="t" id="t60" style="left:1446.30px;top:473.60px;font-size:12.4px;color:#fff;font-weight:700;transform:scaleX(0.9537)">1,972.75</span>
<span class="t" id="t61" style="left:1446.30px;top:510.25px;font-size:12.4px;color:#fff;font-weight:700;transform:scaleX(0.9537)">1,928.04</span>
<span class="t" id="t62" style="left:1446.30px;top:617.60px;font-size:12.4px;color:#fff;font-weight:700;transform:scaleX(0.9537)">1,810.48</span>
<svg width="1505" height="833" viewBox="0 0 1505 833" style="left:0;top:0;pointer-events:none">
<defs><filter id="ws" x="1240" y="730" width="270" height="80" filterUnits="userSpaceOnUse">
<feOffset in="SourceAlpha" dx="1.6" dy="1.7" result="o"/><feGaussianBlur in="o" stdDeviation="1.0" result="b"/>
<feComposite in="b" in2="SourceAlpha" operator="out" result="s"/>
<feComponentTransfer in="s" result="s2"><feFuncA type="linear" slope="0.5"/></feComponentTransfer>
<feComponentTransfer in="SourceGraphic" result="g2"><feFuncA type="linear" slope="0.72"/></feComponentTransfer>
<feMerge><feMergeNode in="s2"/><feMergeNode in="g2"/></feMerge></filter></defs>
<path d="M1273.1 742.0 L1282.1 742.0 L1280.4 748.5 L1271.4 748.5ZM1269.8 750.5 L1284.3 750.5 L1282.9 755.8 L1268.4 755.8ZM1257.6 794.6 L1269.5 794.6 L1277.2 773.5 L1276.8 760.0 L1268.8 760.0 L1268.7 773.5ZM1290.2 741.5 L1298.2 741.5 L1293.0 750.0 L1285.0 750.0ZM1288.6 744.0 L1323.0 744.0 L1321.4 750.0 L1287.0 750.0ZM1284.9 754.0 L1319.9 754.0 L1318.5 759.3 L1283.5 759.3ZM1284.9 754.0 L1291.9 754.0 L1281.0 794.6 L1274.0 794.6ZM1312.9 754.0 L1319.9 754.0 L1309.0 794.6 L1302.0 794.6ZM1275.6 788.5 L1310.6 788.5 L1309.0 794.6 L1274.0 794.6ZM1274.5 770.5 L1320.5 770.5 L1318.9 776.3 L1272.9 776.3ZM1298.5 759.3 L1304.0 759.3 L1306.5 768.5 L1301.0 768.5ZM1292.9 776.3 L1298.4 776.3 L1300.8 786.0 L1295.3 786.0ZM1332.7 743.6 L1371.7 743.6 L1370.3 748.8 L1331.3 748.8ZM1363.5 748.0 L1370.5 748.0 L1365.7 766.0 L1358.7 766.0ZM1331.5 748.0 L1338.5 748.0 L1333.7 766.0 L1326.7 766.0ZM1326.9 765.0 L1374.9 765.0 L1373.5 770.5 L1325.5 770.5ZM1374.0 742.5 L1381.0 742.5 L1367.0 794.6 L1360.0 794.6ZM1347.6 788.5 L1368.6 788.5 L1367.0 794.6 L1346.0 794.6ZM1323.2 779.0 L1362.7 779.0 L1361.1 785.0 L1321.6 785.0ZM1390.6 744.0 L1397.6 744.0 L1387.6 781.0 L1380.6 781.0ZM1390.6 744.0 L1414.6 744.0 L1413.0 750.0 L1389.0 750.0ZM1407.6 744.0 L1414.6 744.0 L1404.6 781.0 L1397.6 781.0ZM1389.0 776.0 L1396.0 776.0 L1386.5 794.6 L1376.7 794.6ZM1396.0 776.0 L1403.0 776.0 L1405.0 794.6 L1396.0 794.6ZM1416.0 750.0 L1444.0 750.0 L1442.4 755.7 L1414.4 755.7ZM1435.1 742.0 L1442.6 742.0 L1428.5 794.6 L1421.0 794.6ZM1413.5 789.0 L1430.0 789.0 L1428.5 794.6 L1412.0 794.6ZM1420.3 756.0 L1427.6 756.0 L1413.8 790.5 L1406.1 790.5ZM1461.0 742.0 L1468.3 742.8 L1456.2 755.7 L1449.0 755.0ZM1449.0 752.0 L1466.0 753.5 L1467.0 758.0 L1449.0 757.0ZM1462.0 757.5 L1469.1 758.3 L1453.6 773.0 L1446.0 772.5ZM1446.0 768.5 L1466.0 768.0 L1466.0 773.0 L1446.0 773.0ZM1442.0 775.0 L1462.0 774.5 L1462.0 780.3 L1441.0 780.3ZM1462.0 772.5 L1473.5 771.5 L1473.0 776.5 L1462.0 776.5ZM1474.0 743.5 L1501.0 743.5 L1500.0 748.6 L1473.0 748.6ZM1496.0 746.0 L1502.8 746.2 L1482.0 768.0 L1474.0 768.0ZM1482.0 754.0 L1488.0 753.0 L1498.5 768.0 L1491.0 768.0ZM1470.0 771.5 L1497.0 771.5 L1496.0 777.0 L1469.0 777.0ZM1477.0 777.0 L1484.0 777.0 L1481.5 788.0 L1474.5 788.0ZM1441.0 787.3 L1492.5 787.3 L1490.5 793.2 L1439.5 793.2Z" fill="#fff" stroke="#fff" stroke-width="1.6" stroke-linejoin="miter" fill-rule="nonzero" filter="url(#ws)"/>
<g font-family="Liberation Sans, sans-serif" font-weight="700" font-style="italic" font-size="33" fill="#3c6ee9" opacity="0.6">
<text transform="translate(1278.9 828) scale(1.12 1)" x="0" y="0" text-anchor="middle" stroke="#3c6ee9" stroke-width="1.8" stroke-linejoin="round">z</text>
<text transform="translate(1305.1 828) scale(1.12 1)" x="0" y="0" text-anchor="middle" stroke="#3c6ee9" stroke-width="1.8" stroke-linejoin="round">z</text>
<text transform="translate(1332.5 828) scale(1.1 1)" x="0" y="0" text-anchor="middle" stroke="#3c6ee9" stroke-width="1.8" stroke-linejoin="round">r</text>
<text transform="translate(1355.8 828) scale(1.08 1)" x="0" y="0" text-anchor="middle" stroke="#3c6ee9" stroke-width="1.8" stroke-linejoin="round">t</text>
<text transform="translate(1377.8 828) scale(1.0 1)" x="0" y="0" text-anchor="middle" stroke="#3c6ee9" stroke-width="1.8" stroke-linejoin="round">0</text>
<text transform="translate(1409.3 828) scale(1.0 1)" x="0" y="0" text-anchor="middle" stroke="#3c6ee9" stroke-width="1.8" stroke-linejoin="round">1</text>
<text transform="translate(1431.3 828) scale(1.3 1)" x="0" y="0" text-anchor="middle" stroke="#3c6ee9" stroke-width="1.8" stroke-linejoin="round">.</text>
<text transform="translate(1454.2 828) scale(1.0 1)" x="0" y="0" text-anchor="middle" stroke="#3c6ee9" stroke-width="1.8" stroke-linejoin="round">c</text>
<text transform="translate(1483.2 828) scale(1.08 1)" x="0" y="0" text-anchor="middle" stroke="#3c6ee9" stroke-width="1.8" stroke-linejoin="round">n</text>
</g></svg>
</body></html>
